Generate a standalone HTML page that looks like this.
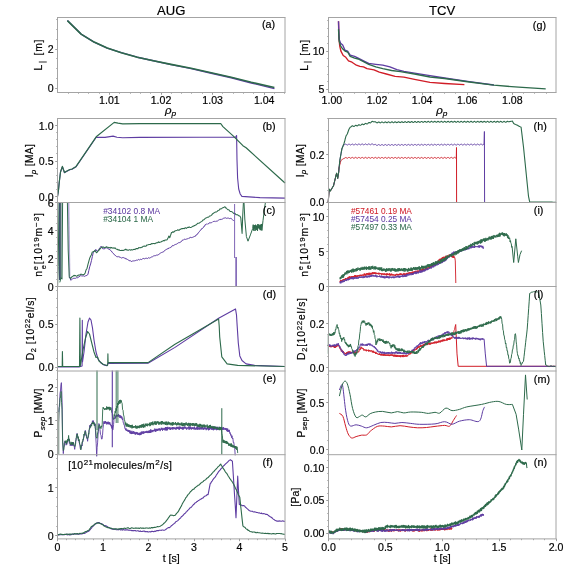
<!DOCTYPE html>
<html><head><meta charset="utf-8"><style>
html,body{margin:0;padding:0;background:#fff;}
svg{display:block;will-change:transform;}
text{font-family:"Liberation Sans",sans-serif;stroke:currentColor;stroke-width:0.18px;}
</style></head><body>
<svg width="568" height="568" viewBox="0 0 568 568">
<rect width="568" height="568" fill="#fff"/>
<text transform="translate(171.20,14.50) scale(1.04,1)" font-size="12.6" text-anchor="middle" fill="#000" color="#000" >AUG</text>
<text transform="translate(442.20,14.50) scale(1.04,1)" font-size="12.6" text-anchor="middle" fill="#000" color="#000" >TCV</text>
<line x1="56.2" y1="78.5" x2="57.5" y2="78.5" stroke="#969696" stroke-width="0.8"/>
<line x1="56.2" y1="68.5" x2="57.5" y2="68.5" stroke="#969696" stroke-width="0.8"/>
<line x1="56.2" y1="58.5" x2="57.5" y2="58.5" stroke="#969696" stroke-width="0.8"/>
<line x1="56.2" y1="39.5" x2="57.5" y2="39.5" stroke="#969696" stroke-width="0.8"/>
<line x1="56.2" y1="29.5" x2="57.5" y2="29.5" stroke="#969696" stroke-width="0.8"/>
<line x1="56.2" y1="19.5" x2="57.5" y2="19.5" stroke="#969696" stroke-width="0.8"/>
<line x1="55.2" y1="88.5" x2="57.5" y2="88.5" stroke="#969696" stroke-width="0.9"/>
<line x1="55.2" y1="49.5" x2="57.5" y2="49.5" stroke="#969696" stroke-width="0.9"/>
<text transform="translate(53.60,92.30) scale(1.04,1)" font-size="10.2" text-anchor="end" fill="#000" color="#000" >0</text>
<text transform="translate(53.60,53.30) scale(1.04,1)" font-size="10.2" text-anchor="end" fill="#000" color="#000" >2</text>
<line x1="68.5" y1="92.5" x2="68.5" y2="93.8" stroke="#969696" stroke-width="0.8"/>
<line x1="78.5" y1="92.5" x2="78.5" y2="93.8" stroke="#969696" stroke-width="0.8"/>
<line x1="88.5" y1="92.5" x2="88.5" y2="93.8" stroke="#969696" stroke-width="0.8"/>
<line x1="99.5" y1="92.5" x2="99.5" y2="93.8" stroke="#969696" stroke-width="0.8"/>
<line x1="109.5" y1="92.5" x2="109.5" y2="93.8" stroke="#969696" stroke-width="0.8"/>
<line x1="119.5" y1="92.5" x2="119.5" y2="93.8" stroke="#969696" stroke-width="0.8"/>
<line x1="130.5" y1="92.5" x2="130.5" y2="93.8" stroke="#969696" stroke-width="0.8"/>
<line x1="140.5" y1="92.5" x2="140.5" y2="93.8" stroke="#969696" stroke-width="0.8"/>
<line x1="150.5" y1="92.5" x2="150.5" y2="93.8" stroke="#969696" stroke-width="0.8"/>
<line x1="161.5" y1="92.5" x2="161.5" y2="93.8" stroke="#969696" stroke-width="0.8"/>
<line x1="171.5" y1="92.5" x2="171.5" y2="93.8" stroke="#969696" stroke-width="0.8"/>
<line x1="181.5" y1="92.5" x2="181.5" y2="93.8" stroke="#969696" stroke-width="0.8"/>
<line x1="191.5" y1="92.5" x2="191.5" y2="93.8" stroke="#969696" stroke-width="0.8"/>
<line x1="202.5" y1="92.5" x2="202.5" y2="93.8" stroke="#969696" stroke-width="0.8"/>
<line x1="212.5" y1="92.5" x2="212.5" y2="93.8" stroke="#969696" stroke-width="0.8"/>
<line x1="222.5" y1="92.5" x2="222.5" y2="93.8" stroke="#969696" stroke-width="0.8"/>
<line x1="233.5" y1="92.5" x2="233.5" y2="93.8" stroke="#969696" stroke-width="0.8"/>
<line x1="243.5" y1="92.5" x2="243.5" y2="93.8" stroke="#969696" stroke-width="0.8"/>
<line x1="253.5" y1="92.5" x2="253.5" y2="93.8" stroke="#969696" stroke-width="0.8"/>
<line x1="264.5" y1="92.5" x2="264.5" y2="93.8" stroke="#969696" stroke-width="0.8"/>
<line x1="274.5" y1="92.5" x2="274.5" y2="93.8" stroke="#969696" stroke-width="0.8"/>
<line x1="284.5" y1="92.5" x2="284.5" y2="93.8" stroke="#969696" stroke-width="0.8"/>
<line x1="109.5" y1="92.5" x2="109.5" y2="94.8" stroke="#969696" stroke-width="0.9"/>
<line x1="161.5" y1="92.5" x2="161.5" y2="94.8" stroke="#969696" stroke-width="0.9"/>
<line x1="212.5" y1="92.5" x2="212.5" y2="94.8" stroke="#969696" stroke-width="0.9"/>
<line x1="264.5" y1="92.5" x2="264.5" y2="94.8" stroke="#969696" stroke-width="0.9"/>
<text transform="translate(109.40,103.80) scale(1.04,1)" font-size="10.2" text-anchor="middle" fill="#000" color="#000" >1.01</text>
<text transform="translate(161.00,103.80) scale(1.04,1)" font-size="10.2" text-anchor="middle" fill="#000" color="#000" >1.02</text>
<text transform="translate(212.60,103.80) scale(1.04,1)" font-size="10.2" text-anchor="middle" fill="#000" color="#000" >1.03</text>
<text transform="translate(264.20,103.80) scale(1.04,1)" font-size="10.2" text-anchor="middle" fill="#000" color="#000" >1.04</text>
<polyline points="67.40,20.60 81.10,34.10 94.10,42.10 107.20,48.10 121.30,52.70 137.30,57.20 153.40,60.80 171.00,64.60 191.10,68.60 211.20,73.30 231.20,77.80 251.30,83.00 274.40,88.60" fill="none" stroke="#5e3ca2" stroke-width="1.4" stroke-linejoin="round" opacity="1.0"/>
<polyline points="67.40,20.60 81.10,34.10 94.10,42.10 107.20,48.10 121.30,52.70 137.30,57.20 153.40,60.80 171.00,64.40 191.10,68.20 211.20,72.80 231.20,77.20 251.30,82.30 274.40,87.50" fill="none" stroke="#2d6a4b" stroke-width="1.6" stroke-linejoin="round" opacity="1.0"/>
<text transform="translate(262.00,27.80) scale(1.04,1)" font-size="10.4" text-anchor="start" fill="#000" color="#000" >(a)</text>
<line x1="327.2" y1="81.5" x2="328.5" y2="81.5" stroke="#969696" stroke-width="0.8"/>
<line x1="327.2" y1="74.5" x2="328.5" y2="74.5" stroke="#969696" stroke-width="0.8"/>
<line x1="327.2" y1="66.5" x2="328.5" y2="66.5" stroke="#969696" stroke-width="0.8"/>
<line x1="327.2" y1="58.5" x2="328.5" y2="58.5" stroke="#969696" stroke-width="0.8"/>
<line x1="327.2" y1="43.5" x2="328.5" y2="43.5" stroke="#969696" stroke-width="0.8"/>
<line x1="327.2" y1="36.5" x2="328.5" y2="36.5" stroke="#969696" stroke-width="0.8"/>
<line x1="327.2" y1="28.5" x2="328.5" y2="28.5" stroke="#969696" stroke-width="0.8"/>
<line x1="327.2" y1="20.5" x2="328.5" y2="20.5" stroke="#969696" stroke-width="0.8"/>
<line x1="326.2" y1="89.5" x2="328.5" y2="89.5" stroke="#969696" stroke-width="0.9"/>
<line x1="326.2" y1="51.5" x2="328.5" y2="51.5" stroke="#969696" stroke-width="0.9"/>
<text transform="translate(324.50,93.40) scale(1.04,1)" font-size="10.2" text-anchor="end" fill="#000" color="#000" >5</text>
<text transform="translate(324.50,55.40) scale(1.04,1)" font-size="10.2" text-anchor="end" fill="#000" color="#000" >10</text>
<line x1="331.5" y1="92.5" x2="331.5" y2="93.8" stroke="#969696" stroke-width="0.8"/>
<line x1="343.5" y1="92.5" x2="343.5" y2="93.8" stroke="#969696" stroke-width="0.8"/>
<line x1="354.5" y1="92.5" x2="354.5" y2="93.8" stroke="#969696" stroke-width="0.8"/>
<line x1="365.5" y1="92.5" x2="365.5" y2="93.8" stroke="#969696" stroke-width="0.8"/>
<line x1="377.5" y1="92.5" x2="377.5" y2="93.8" stroke="#969696" stroke-width="0.8"/>
<line x1="388.5" y1="92.5" x2="388.5" y2="93.8" stroke="#969696" stroke-width="0.8"/>
<line x1="399.5" y1="92.5" x2="399.5" y2="93.8" stroke="#969696" stroke-width="0.8"/>
<line x1="410.5" y1="92.5" x2="410.5" y2="93.8" stroke="#969696" stroke-width="0.8"/>
<line x1="422.5" y1="92.5" x2="422.5" y2="93.8" stroke="#969696" stroke-width="0.8"/>
<line x1="433.5" y1="92.5" x2="433.5" y2="93.8" stroke="#969696" stroke-width="0.8"/>
<line x1="444.5" y1="92.5" x2="444.5" y2="93.8" stroke="#969696" stroke-width="0.8"/>
<line x1="455.5" y1="92.5" x2="455.5" y2="93.8" stroke="#969696" stroke-width="0.8"/>
<line x1="467.5" y1="92.5" x2="467.5" y2="93.8" stroke="#969696" stroke-width="0.8"/>
<line x1="478.5" y1="92.5" x2="478.5" y2="93.8" stroke="#969696" stroke-width="0.8"/>
<line x1="489.5" y1="92.5" x2="489.5" y2="93.8" stroke="#969696" stroke-width="0.8"/>
<line x1="501.5" y1="92.5" x2="501.5" y2="93.8" stroke="#969696" stroke-width="0.8"/>
<line x1="512.5" y1="92.5" x2="512.5" y2="93.8" stroke="#969696" stroke-width="0.8"/>
<line x1="523.5" y1="92.5" x2="523.5" y2="93.8" stroke="#969696" stroke-width="0.8"/>
<line x1="534.5" y1="92.5" x2="534.5" y2="93.8" stroke="#969696" stroke-width="0.8"/>
<line x1="546.5" y1="92.5" x2="546.5" y2="93.8" stroke="#969696" stroke-width="0.8"/>
<line x1="331.5" y1="92.5" x2="331.5" y2="94.8" stroke="#969696" stroke-width="0.9"/>
<line x1="377.5" y1="92.5" x2="377.5" y2="94.8" stroke="#969696" stroke-width="0.9"/>
<line x1="422.5" y1="92.5" x2="422.5" y2="94.8" stroke="#969696" stroke-width="0.9"/>
<line x1="467.5" y1="92.5" x2="467.5" y2="94.8" stroke="#969696" stroke-width="0.9"/>
<line x1="512.5" y1="92.5" x2="512.5" y2="94.8" stroke="#969696" stroke-width="0.9"/>
<text transform="translate(331.90,103.80) scale(1.04,1)" font-size="10.2" text-anchor="middle" fill="#000" color="#000" >1.00</text>
<text transform="translate(377.00,103.80) scale(1.04,1)" font-size="10.2" text-anchor="middle" fill="#000" color="#000" >1.02</text>
<text transform="translate(422.10,103.80) scale(1.04,1)" font-size="10.2" text-anchor="middle" fill="#000" color="#000" >1.04</text>
<text transform="translate(467.20,103.80) scale(1.04,1)" font-size="10.2" text-anchor="middle" fill="#000" color="#000" >1.06</text>
<text transform="translate(512.30,103.80) scale(1.04,1)" font-size="10.2" text-anchor="middle" fill="#000" color="#000" >1.08</text>
<polyline points="338.50,21.20 338.80,36.10 339.70,45.80 340.90,51.10 343.20,55.50 345.80,57.30 348.50,60.80 352.00,62.20 356.40,65.20 359.90,66.40 363.50,66.90 367.00,68.70 374.00,69.90 379.30,72.20 386.30,74.00 395.10,76.30 403.90,77.10 414.50,79.30 430.00,82.30 444.60,83.50 464.40,84.70" fill="none" stroke="#d01c26" stroke-width="1.35" stroke-linejoin="round" opacity="1.0"/>
<polyline points="338.50,21.20 339.20,39.60 340.60,43.20 342.70,44.90 345.00,50.20 347.60,51.10 350.20,55.10 354.60,56.40 358.20,58.10 363.50,60.80 368.70,63.40 375.80,64.30 382.80,65.20 389.90,66.90 396.90,69.60 403.90,71.30 414.50,73.10 430.00,75.70 444.60,78.00 469.30,81.70 493.90,85.00" fill="none" stroke="#5e3ca2" stroke-width="1.35" stroke-linejoin="round" opacity="1.0"/>
<polyline points="338.50,29.10 339.20,41.40 340.60,45.80 342.30,48.50 345.00,51.10 347.60,52.00 350.20,56.40 354.60,58.10 358.20,59.00 363.50,61.70 368.70,64.30 375.80,66.90 382.80,68.70 391.60,70.50 400.40,71.70 414.50,74.00 430.00,77.00 444.60,78.50 469.30,82.00 493.90,85.20 518.60,87.20 545.70,88.90" fill="none" stroke="#2d6a4b" stroke-width="1.35" stroke-linejoin="round" opacity="1.0"/>
<text transform="translate(532.80,28.80) scale(1.04,1)" font-size="10.4" text-anchor="start" fill="#000" color="#000" >(g)</text>
<text transform="translate(165.00,113.50) scale(1.04,1)" font-size="11" text-anchor="start" fill="#000" color="#000" font-style="italic">&#961;<tspan font-size="8" dy="2">p</tspan></text>
<text transform="translate(436.20,113.50) scale(1.04,1)" font-size="11" text-anchor="start" fill="#000" color="#000" font-style="italic">&#961;<tspan font-size="8" dy="2">p</tspan></text>
<line x1="57.5" y1="538.9" x2="57.5" y2="540.1999999999999" stroke="#969696" stroke-width="0.8"/>
<line x1="66.5" y1="538.9" x2="66.5" y2="540.1999999999999" stroke="#969696" stroke-width="0.8"/>
<line x1="75.5" y1="538.9" x2="75.5" y2="540.1999999999999" stroke="#969696" stroke-width="0.8"/>
<line x1="84.5" y1="538.9" x2="84.5" y2="540.1999999999999" stroke="#969696" stroke-width="0.8"/>
<line x1="93.5" y1="538.9" x2="93.5" y2="540.1999999999999" stroke="#969696" stroke-width="0.8"/>
<line x1="103.5" y1="538.9" x2="103.5" y2="540.1999999999999" stroke="#969696" stroke-width="0.8"/>
<line x1="112.5" y1="538.9" x2="112.5" y2="540.1999999999999" stroke="#969696" stroke-width="0.8"/>
<line x1="121.5" y1="538.9" x2="121.5" y2="540.1999999999999" stroke="#969696" stroke-width="0.8"/>
<line x1="130.5" y1="538.9" x2="130.5" y2="540.1999999999999" stroke="#969696" stroke-width="0.8"/>
<line x1="139.5" y1="538.9" x2="139.5" y2="540.1999999999999" stroke="#969696" stroke-width="0.8"/>
<line x1="148.5" y1="538.9" x2="148.5" y2="540.1999999999999" stroke="#969696" stroke-width="0.8"/>
<line x1="157.5" y1="538.9" x2="157.5" y2="540.1999999999999" stroke="#969696" stroke-width="0.8"/>
<line x1="166.5" y1="538.9" x2="166.5" y2="540.1999999999999" stroke="#969696" stroke-width="0.8"/>
<line x1="175.5" y1="538.9" x2="175.5" y2="540.1999999999999" stroke="#969696" stroke-width="0.8"/>
<line x1="184.5" y1="538.9" x2="184.5" y2="540.1999999999999" stroke="#969696" stroke-width="0.8"/>
<line x1="194.5" y1="538.9" x2="194.5" y2="540.1999999999999" stroke="#969696" stroke-width="0.8"/>
<line x1="203.5" y1="538.9" x2="203.5" y2="540.1999999999999" stroke="#969696" stroke-width="0.8"/>
<line x1="212.5" y1="538.9" x2="212.5" y2="540.1999999999999" stroke="#969696" stroke-width="0.8"/>
<line x1="221.5" y1="538.9" x2="221.5" y2="540.1999999999999" stroke="#969696" stroke-width="0.8"/>
<line x1="230.5" y1="538.9" x2="230.5" y2="540.1999999999999" stroke="#969696" stroke-width="0.8"/>
<line x1="239.5" y1="538.9" x2="239.5" y2="540.1999999999999" stroke="#969696" stroke-width="0.8"/>
<line x1="248.5" y1="538.9" x2="248.5" y2="540.1999999999999" stroke="#969696" stroke-width="0.8"/>
<line x1="257.5" y1="538.9" x2="257.5" y2="540.1999999999999" stroke="#969696" stroke-width="0.8"/>
<line x1="266.5" y1="538.9" x2="266.5" y2="540.1999999999999" stroke="#969696" stroke-width="0.8"/>
<line x1="275.5" y1="538.9" x2="275.5" y2="540.1999999999999" stroke="#969696" stroke-width="0.8"/>
<line x1="285.5" y1="538.9" x2="285.5" y2="540.1999999999999" stroke="#969696" stroke-width="0.8"/>
<line x1="57.5" y1="538.9" x2="57.5" y2="541.1999999999999" stroke="#969696" stroke-width="0.9"/>
<line x1="103.5" y1="538.9" x2="103.5" y2="541.1999999999999" stroke="#969696" stroke-width="0.9"/>
<line x1="148.5" y1="538.9" x2="148.5" y2="541.1999999999999" stroke="#969696" stroke-width="0.9"/>
<line x1="194.5" y1="538.9" x2="194.5" y2="541.1999999999999" stroke="#969696" stroke-width="0.9"/>
<line x1="239.5" y1="538.9" x2="239.5" y2="541.1999999999999" stroke="#969696" stroke-width="0.9"/>
<line x1="285.5" y1="538.9" x2="285.5" y2="541.1999999999999" stroke="#969696" stroke-width="0.9"/>
<text transform="translate(57.50,550.70) scale(1.04,1)" font-size="10.2" text-anchor="middle" fill="#000" color="#000" >0</text>
<text transform="translate(103.00,550.70) scale(1.04,1)" font-size="10.2" text-anchor="middle" fill="#000" color="#000" >1</text>
<text transform="translate(148.50,550.70) scale(1.04,1)" font-size="10.2" text-anchor="middle" fill="#000" color="#000" >2</text>
<text transform="translate(194.00,550.70) scale(1.04,1)" font-size="10.2" text-anchor="middle" fill="#000" color="#000" >3</text>
<text transform="translate(239.50,550.70) scale(1.04,1)" font-size="10.2" text-anchor="middle" fill="#000" color="#000" >4</text>
<text transform="translate(285.00,550.70) scale(1.04,1)" font-size="10.2" text-anchor="middle" fill="#000" color="#000" >5</text>
<line x1="328.5" y1="538.9" x2="328.5" y2="540.1999999999999" stroke="#969696" stroke-width="0.8"/>
<line x1="339.5" y1="538.9" x2="339.5" y2="540.1999999999999" stroke="#969696" stroke-width="0.8"/>
<line x1="351.5" y1="538.9" x2="351.5" y2="540.1999999999999" stroke="#969696" stroke-width="0.8"/>
<line x1="362.5" y1="538.9" x2="362.5" y2="540.1999999999999" stroke="#969696" stroke-width="0.8"/>
<line x1="374.5" y1="538.9" x2="374.5" y2="540.1999999999999" stroke="#969696" stroke-width="0.8"/>
<line x1="385.5" y1="538.9" x2="385.5" y2="540.1999999999999" stroke="#969696" stroke-width="0.8"/>
<line x1="396.5" y1="538.9" x2="396.5" y2="540.1999999999999" stroke="#969696" stroke-width="0.8"/>
<line x1="408.5" y1="538.9" x2="408.5" y2="540.1999999999999" stroke="#969696" stroke-width="0.8"/>
<line x1="419.5" y1="538.9" x2="419.5" y2="540.1999999999999" stroke="#969696" stroke-width="0.8"/>
<line x1="430.5" y1="538.9" x2="430.5" y2="540.1999999999999" stroke="#969696" stroke-width="0.8"/>
<line x1="442.5" y1="538.9" x2="442.5" y2="540.1999999999999" stroke="#969696" stroke-width="0.8"/>
<line x1="453.5" y1="538.9" x2="453.5" y2="540.1999999999999" stroke="#969696" stroke-width="0.8"/>
<line x1="465.5" y1="538.9" x2="465.5" y2="540.1999999999999" stroke="#969696" stroke-width="0.8"/>
<line x1="476.5" y1="538.9" x2="476.5" y2="540.1999999999999" stroke="#969696" stroke-width="0.8"/>
<line x1="487.5" y1="538.9" x2="487.5" y2="540.1999999999999" stroke="#969696" stroke-width="0.8"/>
<line x1="499.5" y1="538.9" x2="499.5" y2="540.1999999999999" stroke="#969696" stroke-width="0.8"/>
<line x1="510.5" y1="538.9" x2="510.5" y2="540.1999999999999" stroke="#969696" stroke-width="0.8"/>
<line x1="521.5" y1="538.9" x2="521.5" y2="540.1999999999999" stroke="#969696" stroke-width="0.8"/>
<line x1="533.5" y1="538.9" x2="533.5" y2="540.1999999999999" stroke="#969696" stroke-width="0.8"/>
<line x1="544.5" y1="538.9" x2="544.5" y2="540.1999999999999" stroke="#969696" stroke-width="0.8"/>
<line x1="556.5" y1="538.9" x2="556.5" y2="540.1999999999999" stroke="#969696" stroke-width="0.8"/>
<line x1="328.5" y1="538.9" x2="328.5" y2="541.1999999999999" stroke="#969696" stroke-width="0.9"/>
<line x1="385.5" y1="538.9" x2="385.5" y2="541.1999999999999" stroke="#969696" stroke-width="0.9"/>
<line x1="442.5" y1="538.9" x2="442.5" y2="541.1999999999999" stroke="#969696" stroke-width="0.9"/>
<line x1="499.5" y1="538.9" x2="499.5" y2="541.1999999999999" stroke="#969696" stroke-width="0.9"/>
<line x1="556.5" y1="538.9" x2="556.5" y2="541.1999999999999" stroke="#969696" stroke-width="0.9"/>
<text transform="translate(328.50,550.70) scale(1.04,1)" font-size="10.2" text-anchor="middle" fill="#000" color="#000" >0.0</text>
<text transform="translate(385.38,550.70) scale(1.04,1)" font-size="10.2" text-anchor="middle" fill="#000" color="#000" >0.5</text>
<text transform="translate(442.25,550.70) scale(1.04,1)" font-size="10.2" text-anchor="middle" fill="#000" color="#000" >1.0</text>
<text transform="translate(499.12,550.70) scale(1.04,1)" font-size="10.2" text-anchor="middle" fill="#000" color="#000" >1.5</text>
<text transform="translate(556.00,550.70) scale(1.04,1)" font-size="10.2" text-anchor="middle" fill="#000" color="#000" >2.0</text>
<line x1="56.2" y1="196.5" x2="57.5" y2="196.5" stroke="#969696" stroke-width="0.8"/>
<line x1="56.2" y1="189.5" x2="57.5" y2="189.5" stroke="#969696" stroke-width="0.8"/>
<line x1="56.2" y1="182.5" x2="57.5" y2="182.5" stroke="#969696" stroke-width="0.8"/>
<line x1="56.2" y1="175.5" x2="57.5" y2="175.5" stroke="#969696" stroke-width="0.8"/>
<line x1="56.2" y1="168.5" x2="57.5" y2="168.5" stroke="#969696" stroke-width="0.8"/>
<line x1="56.2" y1="161.5" x2="57.5" y2="161.5" stroke="#969696" stroke-width="0.8"/>
<line x1="56.2" y1="153.5" x2="57.5" y2="153.5" stroke="#969696" stroke-width="0.8"/>
<line x1="56.2" y1="146.5" x2="57.5" y2="146.5" stroke="#969696" stroke-width="0.8"/>
<line x1="56.2" y1="139.5" x2="57.5" y2="139.5" stroke="#969696" stroke-width="0.8"/>
<line x1="56.2" y1="132.5" x2="57.5" y2="132.5" stroke="#969696" stroke-width="0.8"/>
<line x1="56.2" y1="125.5" x2="57.5" y2="125.5" stroke="#969696" stroke-width="0.8"/>
<line x1="55.2" y1="196.5" x2="57.5" y2="196.5" stroke="#969696" stroke-width="0.9"/>
<line x1="55.2" y1="161.5" x2="57.5" y2="161.5" stroke="#969696" stroke-width="0.9"/>
<line x1="55.2" y1="125.5" x2="57.5" y2="125.5" stroke="#969696" stroke-width="0.9"/>
<text transform="translate(53.60,200.70) scale(1.04,1)" font-size="10.2" text-anchor="end" fill="#000" color="#000" >0.0</text>
<text transform="translate(53.60,165.10) scale(1.04,1)" font-size="10.2" text-anchor="end" fill="#000" color="#000" >0.5</text>
<text transform="translate(53.60,129.50) scale(1.04,1)" font-size="10.2" text-anchor="end" fill="#000" color="#000" >1.0</text>
<polyline points="57.50,196.40 58.50,190.00 59.20,182.70 60.50,172.00 62.40,166.80 64.50,172.80 66.00,171.80 69.80,169.80 72.00,169.30 76.10,166.80 96.20,137.20 105.00,137.40 113.10,136.10 117.00,137.20 122.70,137.80 140.00,137.40 200.00,137.30 235.50,137.20 236.60,135.50 237.00,160.00 237.60,178.00 238.70,189.00 240.20,194.00 241.90,196.40 260.00,197.60 285.00,198.10" fill="none" stroke="#5e3ca2" stroke-width="1.1" stroke-linejoin="round" opacity="1.0"/>
<polyline points="57.50,196.40 58.50,190.00 59.20,182.70 60.50,172.00 62.40,166.40 64.50,172.50 66.00,171.50 69.80,169.50 72.00,169.00 76.10,166.40 96.20,136.80 114.20,122.40 118.00,123.20 122.70,123.90 140.00,123.60 180.00,123.60 220.70,123.50 222.90,126.60 233.40,136.10 242.90,145.70 246.10,147.80 285.00,183.00" fill="none" stroke="#2d6a4b" stroke-width="1.2" stroke-linejoin="round" opacity="1.0"/>
<text transform="translate(262.40,129.80) scale(1.04,1)" font-size="10.4" text-anchor="start" fill="#000" color="#000" >(b)</text>
<line x1="327.2" y1="202.5" x2="328.5" y2="202.5" stroke="#969696" stroke-width="0.8"/>
<line x1="327.2" y1="190.5" x2="328.5" y2="190.5" stroke="#969696" stroke-width="0.8"/>
<line x1="327.2" y1="178.5" x2="328.5" y2="178.5" stroke="#969696" stroke-width="0.8"/>
<line x1="327.2" y1="166.5" x2="328.5" y2="166.5" stroke="#969696" stroke-width="0.8"/>
<line x1="327.2" y1="154.5" x2="328.5" y2="154.5" stroke="#969696" stroke-width="0.8"/>
<line x1="327.2" y1="142.5" x2="328.5" y2="142.5" stroke="#969696" stroke-width="0.8"/>
<line x1="327.2" y1="130.5" x2="328.5" y2="130.5" stroke="#969696" stroke-width="0.8"/>
<line x1="327.2" y1="118.5" x2="328.5" y2="118.5" stroke="#969696" stroke-width="0.8"/>
<line x1="326.2" y1="202.5" x2="328.5" y2="202.5" stroke="#969696" stroke-width="0.9"/>
<line x1="326.2" y1="154.5" x2="328.5" y2="154.5" stroke="#969696" stroke-width="0.9"/>
<text transform="translate(324.50,206.40) scale(1.04,1)" font-size="10.2" text-anchor="end" fill="#000" color="#000" >0.0</text>
<text transform="translate(324.50,158.50) scale(1.04,1)" font-size="10.2" text-anchor="end" fill="#000" color="#000" >0.2</text>
<polyline points="328.20,202.40 328.70,195.70 329.20,189.00 329.75,190.05 330.30,191.10 330.76,190.34 331.21,189.59 331.67,188.83 332.13,188.07 332.59,187.31 333.04,186.56 333.50,185.80 333.94,183.99 334.39,182.17 334.83,180.36 335.27,178.54 335.71,176.73 336.16,174.91 336.60,173.10 337.15,175.75 337.70,178.40 338.20,175.25 338.70,172.10 338.90,168.00 339.35,166.35 339.80,164.70 340.35,162.60 340.90,160.50 341.34,160.19 341.79,159.87 342.23,159.56 342.67,159.24 343.11,158.93 343.56,158.61 344.00,158.30 344.45,158.22 344.90,158.13 345.35,157.68 345.80,157.53 346.25,157.68 346.70,157.97 347.10,158.21 347.50,158.23 347.90,158.01 348.30,157.67 348.70,157.41 349.10,157.37 349.50,157.56 349.90,157.89 350.30,158.17 350.70,158.25 351.11,158.08 351.51,157.76 351.91,157.46 352.31,157.36 352.71,157.50 353.11,157.81 353.51,158.12 353.91,158.26 354.31,158.14 354.71,157.84 355.11,157.53 355.51,157.36 355.91,157.45 356.31,157.74 356.71,158.06 357.11,158.25 357.51,158.20 357.91,157.93 358.31,157.60 358.71,157.39 359.11,157.41 359.52,157.66 359.92,158.00 360.32,158.23 360.72,158.24 361.12,158.01 361.52,157.68 361.92,157.42 362.32,157.39 362.72,157.59 363.12,157.92 363.52,158.20 363.92,158.26 364.32,158.08 364.72,157.76 365.12,157.47 365.52,157.37 365.92,157.53 366.32,157.84 366.72,158.15 367.12,158.27 367.52,158.15 367.93,157.85 368.33,157.53 368.73,157.38 369.13,157.47 369.53,157.77 369.93,158.09 370.33,158.27 370.73,158.21 371.13,157.93 371.53,157.60 371.93,157.40 372.33,157.43 372.73,157.69 373.13,158.02 373.53,158.25 373.93,158.25 374.33,158.01 374.73,157.68 375.13,157.43 375.53,157.41 375.94,157.62 376.34,157.95 376.74,158.22 377.14,158.28 377.54,158.09 377.94,157.76 378.34,157.48 378.74,157.39 379.14,157.55 379.54,157.87 379.94,158.17 380.34,158.29 380.74,158.16 381.14,157.85 381.54,157.54 381.94,157.39 382.34,157.50 382.74,157.79 383.14,158.12 383.54,158.29 383.94,158.21 384.35,157.93 384.75,157.61 385.15,157.41 385.55,157.46 385.95,157.72 386.35,158.05 386.75,158.27 387.15,158.26 387.55,158.02 387.95,157.68 388.35,157.44 388.75,157.43 389.15,157.65 389.55,157.98 389.95,158.24 390.35,158.29 390.75,158.09 391.15,157.77 391.55,157.49 391.95,157.41 392.35,157.58 392.76,157.90 393.16,158.20 393.56,158.31 393.96,158.16 394.36,157.85 394.76,157.54 395.16,157.41 395.56,157.52 395.96,157.82 396.36,158.14 396.76,158.31 397.16,158.22 397.56,157.94 397.96,157.61 398.36,157.42 398.76,157.48 399.16,157.75 399.56,158.08 399.96,158.29 400.36,158.27 400.76,158.02 401.17,157.69 401.57,157.45 401.97,157.45 402.37,157.67 402.77,158.01 403.17,158.26 403.57,158.30 403.97,158.10 404.37,157.77 404.77,157.49 405.17,157.43 405.57,157.61 405.97,157.93 406.37,158.22 406.77,158.32 407.17,158.17 407.57,157.85 407.97,157.55 408.37,157.42 408.77,157.55 409.18,157.85 409.58,158.17 409.98,158.32 410.38,158.23 410.78,157.94 411.18,157.61 411.58,157.44 411.98,157.50 412.38,157.78 412.78,158.11 413.18,158.31 413.58,158.28 413.98,158.02 414.38,157.69 414.78,157.46 415.18,157.47 415.58,157.70 415.98,158.04 416.38,158.29 416.78,158.31 417.18,158.10 417.59,157.77 417.99,157.50 418.39,157.45 418.79,157.63 419.19,157.96 419.59,158.25 419.99,158.33 420.39,158.17 420.79,157.86 421.19,157.56 421.59,157.44 421.99,157.57 422.39,157.88 422.79,158.20 423.19,158.34 423.59,158.24 423.99,157.94 424.39,157.62 424.79,157.45 425.19,157.52 425.59,157.81 426.00,158.14 426.40,158.33 426.80,158.29 427.20,158.03 427.60,157.69 428.00,157.47 428.40,157.49 428.80,157.73 429.20,158.07 429.60,158.31 430.00,158.33 430.40,158.10 430.81,157.76 431.21,157.50 431.62,157.46 432.02,157.67 432.43,158.00 432.83,158.27 433.24,158.33 433.64,158.14 434.05,157.80 434.45,157.52 434.86,157.44 435.26,157.61 435.66,157.93 436.07,158.23 436.47,158.32 436.88,158.17 437.28,157.84 437.69,157.54 438.09,157.42 438.50,157.56 438.90,157.87 439.31,158.18 439.71,158.31 440.12,158.19 440.52,157.89 440.92,157.56 441.33,157.41 441.73,157.51 442.14,157.80 442.54,158.13 442.95,158.30 443.35,158.21 443.76,157.93 444.16,157.59 444.57,157.40 444.97,157.46 445.38,157.74 445.78,158.07 446.18,158.27 446.59,158.23 446.99,157.97 447.40,157.63 447.80,157.41 448.21,157.42 448.61,157.67 449.02,158.01 449.42,158.24 449.83,158.24 450.23,158.01 450.64,157.67 451.04,157.41 451.44,157.39 451.85,157.61 452.25,157.95 452.66,158.21 453.06,158.25 453.47,158.04 453.87,157.71 454.28,157.43 454.68,157.37 455.09,157.55 455.49,157.88 455.90,158.17 456.30,157.80 456.50,147.50 456.60,202.20" fill="none" stroke="#d01c26" stroke-width="1.0" stroke-linejoin="round" opacity="1.0"/>
<polyline points="328.20,202.40 328.70,195.70 329.20,189.00 329.75,190.05 330.30,191.10 330.76,190.34 331.21,189.59 331.67,188.83 332.13,188.07 332.59,187.31 333.04,186.56 333.50,185.80 333.94,183.99 334.39,182.17 334.83,180.36 335.27,178.54 335.71,176.73 336.16,174.91 336.60,173.10 337.15,175.75 337.70,178.40 338.20,175.25 338.70,172.10 339.25,166.30 339.80,160.50 340.22,158.16 340.64,155.82 341.06,153.48 341.48,151.14 341.90,148.80 342.30,147.85 342.70,146.90 343.10,145.95 343.50,145.00 344.00,144.80 344.50,144.60 344.90,144.60 345.30,144.25 345.70,144.14 346.11,144.28 346.51,144.59 346.91,144.89 347.31,145.02 347.71,144.90 348.11,144.60 348.51,144.27 348.92,144.11 349.32,144.19 349.72,144.48 350.12,144.80 350.52,144.98 350.92,144.91 351.32,144.64 351.72,144.30 352.13,144.09 352.53,144.12 352.93,144.37 353.33,144.70 353.73,144.93 354.13,144.92 354.53,144.68 354.94,144.34 355.34,144.08 355.74,144.06 356.14,144.27 356.54,144.60 356.94,144.86 357.34,144.91 357.75,144.71 358.15,144.38 358.55,144.09 358.95,144.01 359.35,144.17 359.75,144.49 360.15,144.78 360.55,144.88 360.96,144.74 361.36,144.42 361.76,144.11 362.16,143.97 362.56,144.08 362.96,144.38 363.36,144.69 363.77,144.85 364.17,144.76 364.57,144.46 364.97,144.13 365.37,143.95 365.77,144.00 366.17,144.27 366.58,144.60 366.98,144.80 367.38,144.76 367.78,144.51 368.18,144.17 368.58,143.93 368.98,143.93 369.38,144.17 369.79,144.50 370.19,144.74 370.59,144.76 370.99,144.54 371.39,144.20 371.79,143.93 372.19,143.88 372.60,144.07 373.00,144.39 373.40,144.67 373.80,144.75 374.24,144.69 374.68,144.47 375.12,144.32 375.56,144.44 376.00,144.83 376.40,145.17 376.80,145.41 377.20,145.42 377.60,145.20 378.00,144.86 378.40,144.60 378.80,144.55 379.20,144.74 379.60,145.07 380.00,145.35 380.40,145.42 380.80,145.25 381.20,144.93 381.61,144.63 382.01,144.52 382.41,144.66 382.81,144.97 383.21,145.28 383.61,145.41 384.01,145.30 384.41,145.00 384.81,144.68 385.21,144.51 385.61,144.59 386.01,144.88 386.41,145.20 386.81,145.39 387.21,145.33 387.61,145.06 388.01,144.73 388.41,144.51 388.81,144.54 389.21,144.78 389.61,145.11 390.01,145.35 390.41,145.35 390.81,145.13 391.21,144.79 391.61,144.53 392.01,144.49 392.42,144.69 392.82,145.02 393.22,145.29 393.62,145.36 394.02,145.18 394.42,144.86 394.82,144.56 395.22,144.46 395.62,144.61 396.02,144.92 396.42,145.23 396.82,145.35 397.22,145.23 397.62,144.93 398.02,144.61 398.42,144.45 398.82,144.54 399.22,144.83 399.62,145.15 400.02,145.33 400.42,145.27 400.82,144.99 401.22,144.66 401.62,144.45 402.02,144.48 402.42,144.73 402.82,145.06 403.23,145.29 403.63,145.29 404.03,145.06 404.43,144.72 404.83,144.47 405.23,144.43 405.63,144.64 406.03,144.97 406.43,145.24 406.83,145.30 407.23,145.11 407.63,144.79 408.03,144.50 408.43,144.40 408.83,144.56 409.23,144.87 409.63,145.17 410.03,145.29 410.43,145.16 410.83,144.85 411.23,144.54 411.63,144.39 412.03,144.48 412.43,144.77 412.83,145.10 413.23,145.27 413.63,145.20 414.04,144.92 414.44,144.59 414.84,144.39 415.24,144.42 415.64,144.68 416.04,145.01 416.44,145.23 416.84,145.22 417.24,144.99 417.64,144.65 418.04,144.40 418.44,144.38 418.84,144.59 419.24,144.92 419.64,145.18 420.04,145.24 420.44,145.04 420.84,144.71 421.24,144.43 421.64,144.34 422.04,144.50 422.44,144.82 422.84,145.12 423.24,145.23 423.64,145.09 424.04,144.78 424.44,144.47 424.85,144.32 425.25,144.43 425.65,144.72 426.05,145.04 426.45,145.21 426.85,145.13 427.25,144.85 427.65,144.52 428.05,144.32 428.45,144.37 428.85,144.63 429.25,144.96 429.65,145.18 430.05,145.16 430.45,144.92 430.85,144.58 431.25,144.33 431.65,144.32 432.05,144.54 432.45,144.87 432.85,145.13 433.25,145.17 433.65,144.97 434.05,144.64 434.45,144.36 434.85,144.28 435.25,144.45 435.66,144.77 436.06,145.07 436.46,145.17 436.86,145.03 437.26,144.71 437.66,144.40 438.06,144.26 438.46,144.38 438.86,144.67 439.26,144.99 439.66,145.15 440.06,145.07 440.46,144.78 440.86,144.45 441.26,144.26 441.66,144.31 442.06,144.58 442.46,144.91 442.86,145.12 443.26,145.09 443.66,144.84 444.06,144.51 444.46,144.27 444.86,144.26 445.26,144.48 445.66,144.82 446.06,145.07 446.47,145.11 446.87,144.90 447.27,144.57 447.67,144.29 448.07,144.22 448.47,144.40 448.87,144.72 449.27,145.01 449.67,145.11 450.07,144.96 450.47,144.64 450.87,144.33 451.27,144.20 451.67,144.32 452.07,144.62 452.47,144.94 452.87,145.09 453.27,145.00 453.67,144.71 454.07,144.38 454.47,144.20 454.87,144.26 455.27,144.53 455.67,144.86 456.07,145.06 456.47,145.03 456.87,144.77 457.28,144.44 457.68,144.20 458.08,144.20 458.48,144.43 458.88,144.77 459.28,145.02 459.68,145.04 460.08,144.83 460.48,144.50 460.88,144.23 461.28,144.16 461.68,144.35 462.08,144.67 462.48,144.96 462.88,145.05 463.28,144.89 463.68,144.57 464.08,144.26 464.48,144.14 464.88,144.27 465.28,144.57 465.68,144.88 466.08,145.03 466.48,144.93 466.88,144.64 467.28,144.31 467.68,144.13 468.09,144.20 468.49,144.47 468.89,144.80 469.29,145.00 469.69,144.96 470.09,144.70 470.49,144.37 470.89,144.14 471.29,144.15 471.69,144.38 472.09,144.71 472.49,144.96 472.89,144.98 473.29,144.76 473.69,144.43 474.09,144.16 474.49,144.11 474.89,144.29 475.29,144.62 475.69,144.90 476.09,144.98 476.49,144.82 476.89,144.50 477.29,144.19 477.69,144.08 478.09,144.21 478.49,144.52 478.90,144.83 479.30,144.97 479.70,144.86 480.10,144.56 480.50,144.24 480.90,144.07 481.30,144.15 481.70,144.42 482.10,144.75 482.50,144.94 482.90,144.90 483.30,144.63 483.70,144.30 484.10,144.50 484.40,131.50 484.60,202.20" fill="none" stroke="#5e3ca2" stroke-width="1.0" stroke-linejoin="round" opacity="1.0"/>
<polyline points="328.20,202.40 328.70,195.70 329.20,189.00 329.75,190.05 330.30,191.10 330.76,190.34 331.21,189.59 331.67,188.83 332.13,188.07 332.59,187.31 333.04,186.56 333.50,185.80 333.94,183.99 334.39,182.17 334.83,180.36 335.27,178.54 335.71,176.73 336.16,174.91 336.60,173.10 337.15,175.75 337.70,178.40 338.20,175.25 338.70,172.10 339.25,166.30 339.80,160.50 340.22,158.16 340.64,155.82 341.06,153.48 341.48,151.14 341.90,148.80 342.32,147.74 342.74,146.68 343.16,145.62 343.58,144.56 344.00,143.50 344.42,142.02 344.84,140.54 345.26,138.74 345.68,137.13 346.10,135.79 346.53,135.18 346.96,134.55 347.39,133.70 347.82,132.56 348.25,131.26 348.68,130.02 349.11,129.01 349.54,128.29 349.97,127.69 350.40,127.01 350.82,126.95 351.24,126.64 351.66,126.22 352.08,125.91 352.50,125.86 352.92,126.05 353.34,126.33 353.76,126.49 354.18,126.40 354.60,126.06 355.02,125.65 355.44,125.36 355.86,125.35 356.28,125.56 356.70,125.84 357.11,125.96 357.52,125.82 357.92,125.47 358.33,125.05 358.74,124.76 359.15,124.72 359.55,124.91 359.96,125.17 360.37,125.30 360.78,125.19 361.18,124.85 361.59,124.43 362.00,124.12 362.41,124.06 362.82,124.23 363.22,124.49 363.63,124.65 364.04,124.56 364.45,124.24 364.85,123.81 365.26,123.49 365.67,123.40 366.08,123.56 366.48,123.82 366.89,123.99 367.30,123.93 367.72,123.54 368.14,123.05 368.56,122.65 368.98,122.50 369.40,122.60 369.82,122.80 370.24,122.90 370.66,122.73 371.08,122.32 371.50,121.83 371.92,121.46 372.34,121.35 372.76,121.47 373.18,121.68 373.60,121.74 374.02,121.90 374.44,121.83 374.86,121.71 375.28,121.74 375.70,122.03 376.13,122.34 376.56,122.68 376.99,122.85 377.42,122.73 377.85,122.40 378.28,122.07 378.71,121.95 379.14,122.12 379.57,122.46 380.00,122.77 380.40,122.84 380.80,122.67 381.20,122.34 381.60,122.04 382.00,121.93 382.40,122.06 382.80,122.37 383.20,122.67 383.60,122.81 384.00,122.69 384.40,122.39 384.80,122.06 385.20,121.89 385.60,121.97 386.00,122.24 386.40,122.57 386.80,122.76 387.20,122.70 387.60,122.44 388.00,122.10 388.40,121.87 388.80,121.89 389.20,122.12 389.60,122.45 390.00,122.69 390.40,122.70 390.80,122.48 391.20,122.14 391.60,121.87 392.00,121.82 392.40,122.01 392.80,122.33 393.20,122.61 393.60,122.68 394.00,122.51 394.40,122.18 394.80,121.88 395.20,121.77 395.60,121.90 396.00,122.21 396.40,122.51 396.80,122.65 397.20,122.53 397.60,122.23 398.00,121.91 398.40,121.73 398.80,121.81 399.20,122.08 399.60,122.41 400.00,122.60 400.40,122.54 400.80,122.28 401.20,121.94 401.60,121.72 402.00,121.73 402.40,121.96 402.80,122.29 403.20,122.53 403.60,122.54 404.00,122.32 404.40,121.98 404.80,121.71 405.20,121.66 405.60,121.85 406.00,122.17 406.40,122.45 406.80,122.52 407.20,122.35 407.60,122.03 408.00,121.72 408.40,121.61 408.80,121.74 409.20,122.05 409.60,122.36 410.00,122.49 410.40,122.38 410.80,122.07 411.20,121.75 411.60,121.58 412.00,121.65 412.40,121.93 412.80,122.25 413.20,122.44 413.60,122.39 414.00,122.12 414.40,121.78 414.80,121.56 415.20,121.57 415.60,121.81 416.00,122.14 416.40,122.37 416.80,122.38 417.20,122.16 417.60,121.82 418.00,121.55 418.40,121.50 418.80,121.69 419.20,122.01 419.60,122.29 420.00,122.37 420.40,122.19 420.80,121.87 421.20,121.57 421.60,121.45 422.00,121.59 422.40,121.89 422.80,122.20 423.20,122.33 423.60,122.22 424.00,121.91 424.40,121.59 424.80,121.42 425.20,121.49 425.60,121.77 426.00,122.09 426.40,122.28 426.80,122.23 427.20,121.96 427.60,121.62 428.00,121.40 428.40,121.41 428.80,121.65 429.20,121.98 429.60,122.21 430.00,122.23 430.40,122.01 430.80,121.67 431.20,121.41 431.61,121.36 432.01,121.56 432.41,121.89 432.81,122.17 433.21,122.24 433.61,122.07 434.02,121.74 434.42,121.45 434.82,121.35 435.22,121.50 435.62,121.82 436.02,122.12 436.42,122.25 436.83,122.13 437.23,121.82 437.63,121.50 438.03,121.35 438.43,121.45 438.83,121.74 439.24,122.07 439.64,122.24 440.04,122.17 440.44,121.89 440.84,121.56 441.24,121.36 441.64,121.41 442.05,121.67 442.45,122.00 442.85,122.22 443.25,122.21 443.65,121.97 444.05,121.63 444.46,121.39 444.86,121.38 445.26,121.60 445.66,121.93 446.06,122.19 446.46,122.23 446.86,122.03 447.27,121.70 447.67,121.43 448.07,121.36 448.47,121.54 448.87,121.86 449.27,122.15 449.68,122.25 450.08,122.09 450.48,121.78 450.88,121.47 451.28,121.35 451.68,121.48 452.08,121.79 452.49,122.10 452.89,122.25 453.29,122.15 453.69,121.85 454.09,121.53 454.49,121.36 454.89,121.43 455.30,121.71 455.70,122.04 456.10,122.24 456.50,122.19 456.90,121.92 457.30,121.59 457.71,121.37 458.11,121.39 458.51,121.64 458.91,121.98 459.31,122.21 459.71,122.22 460.11,121.99 460.52,121.66 460.92,121.40 461.32,121.37 461.72,121.57 462.12,121.90 462.52,122.18 462.93,122.24 463.33,122.06 463.73,121.73 464.13,121.44 464.53,121.35 464.93,121.51 465.33,121.83 465.74,122.13 466.14,122.25 466.54,122.12 466.94,121.81 467.34,121.49 467.74,121.35 468.15,121.46 468.55,121.75 468.95,122.08 469.35,122.25 469.75,122.17 470.15,121.88 470.55,121.55 470.96,121.36 471.36,121.41 471.76,121.68 472.16,122.01 472.56,122.23 472.96,122.20 473.37,121.96 473.77,121.62 474.17,121.38 474.57,121.38 474.97,121.61 475.37,121.95 475.77,122.20 476.18,122.23 476.58,122.02 476.98,121.69 477.38,121.42 477.78,121.36 478.18,121.55 478.59,121.87 478.99,122.16 479.39,122.25 479.79,122.08 480.19,121.76 480.59,121.46 480.99,121.35 481.40,121.49 481.80,121.80 482.20,122.11 482.60,122.25 483.00,122.14 483.40,121.84 483.81,121.52 484.21,121.35 484.61,121.44 485.01,121.72 485.41,122.05 485.81,122.24 486.21,122.18 486.62,121.91 487.02,121.58 487.42,121.37 487.82,121.40 488.22,121.65 488.62,121.99 489.02,122.22 489.43,122.22 489.83,121.98 490.23,121.65 490.63,121.40 491.03,121.37 491.43,121.58 491.84,121.91 492.24,122.18 492.64,122.24 493.04,122.05 493.44,121.72 493.84,121.44 494.24,121.35 494.65,121.52 495.05,121.84 495.45,122.14 495.85,122.25 496.25,122.11 496.65,121.80 497.06,121.49 497.46,121.35 497.86,121.46 498.26,121.77 498.66,122.09 499.06,122.25 499.46,122.16 499.87,121.87 500.27,121.54 500.67,121.36 501.07,121.42 501.47,121.69 501.87,122.02 502.28,122.23 502.68,122.20 503.08,121.94 503.48,121.61 503.88,121.38 504.28,121.38 504.68,121.62 505.09,121.96 505.49,122.20 505.89,122.23 506.29,122.01 506.69,121.68 507.09,121.41 507.50,121.36 507.90,121.55 508.30,121.80 508.70,121.80 509.11,121.72 509.52,121.64 509.93,121.57 510.34,121.49 510.76,121.41 511.17,121.33 511.58,121.26 511.99,121.18 512.40,121.10 512.83,121.93 513.27,122.77 513.70,123.60 514.11,123.79 514.52,123.98 514.93,124.17 515.34,124.36 515.76,124.54 516.17,124.73 516.58,124.92 516.99,125.11 517.40,125.30 517.81,125.52 518.22,125.74 518.63,125.97 519.04,126.19 519.46,126.41 519.87,126.63 520.28,126.86 520.69,127.08 521.10,127.30 521.58,131.24 522.06,135.18 522.54,139.12 523.02,143.06 523.50,147.00 523.92,151.11 524.33,155.22 524.75,159.32 525.17,163.43 525.58,167.54 526.00,171.65 526.42,175.76 526.83,179.87 527.25,183.98 527.67,188.08 528.08,192.19 528.50,196.30 528.90,198.20 529.30,200.10 529.70,202.00 530.10,202.00 530.51,202.01 530.91,202.01 531.32,202.01 531.72,202.02 532.13,202.02 532.53,202.02 532.94,202.02 533.34,202.03 533.75,202.03 534.15,202.03 534.56,202.04 534.96,202.04 535.36,202.04 535.77,202.05 536.17,202.05 536.58,202.05 536.98,202.06 537.39,202.06 537.79,202.06 538.20,202.06 538.60,202.07 539.01,202.07 539.41,202.07 539.82,202.08 540.22,202.08 540.62,202.08 541.03,202.09 541.43,202.09 541.84,202.09 542.24,202.10 542.65,202.10 543.05,202.10 543.46,202.10 543.86,202.11 544.27,202.11 544.67,202.11 545.08,202.12 545.48,202.12 545.88,202.12 546.29,202.13 546.69,202.13 547.10,202.13 547.50,202.14 547.91,202.14 548.31,202.14 548.72,202.14 549.12,202.15 549.53,202.15 549.93,202.15 550.34,202.16 550.74,202.16 551.14,202.16 551.55,202.17 551.95,202.17 552.36,202.17 552.76,202.18 553.17,202.18 553.57,202.18 553.98,202.18 554.38,202.19 554.79,202.19 555.19,202.19 555.60,202.20 556.00,202.20" fill="none" stroke="#2d6a4b" stroke-width="1.1" stroke-linejoin="round" opacity="1.0"/>
<text transform="translate(533.60,130.10) scale(1.04,1)" font-size="10.4" text-anchor="start" fill="#000" color="#000" >(h)</text>
<line x1="56.2" y1="286.5" x2="57.5" y2="286.5" stroke="#969696" stroke-width="0.8"/>
<line x1="56.2" y1="279.5" x2="57.5" y2="279.5" stroke="#969696" stroke-width="0.8"/>
<line x1="56.2" y1="272.5" x2="57.5" y2="272.5" stroke="#969696" stroke-width="0.8"/>
<line x1="56.2" y1="265.5" x2="57.5" y2="265.5" stroke="#969696" stroke-width="0.8"/>
<line x1="56.2" y1="258.5" x2="57.5" y2="258.5" stroke="#969696" stroke-width="0.8"/>
<line x1="56.2" y1="251.5" x2="57.5" y2="251.5" stroke="#969696" stroke-width="0.8"/>
<line x1="56.2" y1="244.5" x2="57.5" y2="244.5" stroke="#969696" stroke-width="0.8"/>
<line x1="56.2" y1="237.5" x2="57.5" y2="237.5" stroke="#969696" stroke-width="0.8"/>
<line x1="56.2" y1="230.5" x2="57.5" y2="230.5" stroke="#969696" stroke-width="0.8"/>
<line x1="56.2" y1="223.5" x2="57.5" y2="223.5" stroke="#969696" stroke-width="0.8"/>
<line x1="56.2" y1="216.5" x2="57.5" y2="216.5" stroke="#969696" stroke-width="0.8"/>
<line x1="56.2" y1="209.5" x2="57.5" y2="209.5" stroke="#969696" stroke-width="0.8"/>
<line x1="56.2" y1="202.5" x2="57.5" y2="202.5" stroke="#969696" stroke-width="0.8"/>
<line x1="55.2" y1="286.5" x2="57.5" y2="286.5" stroke="#969696" stroke-width="0.9"/>
<line x1="55.2" y1="258.5" x2="57.5" y2="258.5" stroke="#969696" stroke-width="0.9"/>
<line x1="55.2" y1="230.5" x2="57.5" y2="230.5" stroke="#969696" stroke-width="0.9"/>
<line x1="55.2" y1="202.5" x2="57.5" y2="202.5" stroke="#969696" stroke-width="0.9"/>
<text transform="translate(53.60,290.60) scale(1.04,1)" font-size="10.2" text-anchor="end" fill="#000" color="#000" >0</text>
<text transform="translate(53.60,262.60) scale(1.04,1)" font-size="10.2" text-anchor="end" fill="#000" color="#000" >2</text>
<text transform="translate(53.60,234.60) scale(1.04,1)" font-size="10.2" text-anchor="end" fill="#000" color="#000" >4</text>
<text transform="translate(53.60,206.60) scale(1.04,1)" font-size="10.2" text-anchor="end" fill="#000" color="#000" >6</text>
<polyline points="57.60,286.30 58.20,266.60 59.00,202.50" fill="none" stroke="#2d6a4b" stroke-width="1.0" stroke-linejoin="round" opacity="1.0"/>
<line x1="59.5" y1="202.5" x2="59.5" y2="280" stroke="#3b4f6e" stroke-width="1.0"/>
<line x1="60.3" y1="202.5" x2="60.3" y2="279" stroke="#3f4a70" stroke-width="1.0"/>
<line x1="61.0" y1="202.5" x2="61.0" y2="278" stroke="#355a5c" stroke-width="0.9"/>
<polyline points="59.80,282.40 61.00,277.70 62.00,279.20 62.60,202.50" fill="none" stroke="#2d6a4b" stroke-width="1.0" stroke-linejoin="round" opacity="1.0"/>
<polyline points="68.60,202.50 69.60,276.50" fill="none" stroke="#b8a8d8" stroke-width="1.6" stroke-linejoin="round" opacity="1.0"/>
<polyline points="67.40,202.50 68.20,250.00 69.30,277.70" fill="none" stroke="#2d6a4b" stroke-width="1.0" stroke-linejoin="round" opacity="1.0"/>
<polyline points="69.60,276.79 70.80,280.32 71.60,279.59 72.40,278.96 73.20,278.30 74.00,278.56 74.80,278.19 75.60,278.30 76.40,277.73 77.20,277.95 78.00,277.27 79.00,276.90 80.00,275.93 80.76,275.67 81.51,275.85 82.27,276.05 83.03,275.62 83.79,276.04 84.54,276.35 85.30,275.87 86.17,275.80 87.03,275.09 87.90,274.64 88.80,270.60 89.70,266.83 90.60,264.00 91.47,260.50 92.33,256.65 93.20,252.79 94.07,251.70 94.93,250.93 95.80,249.39 96.70,250.95 97.60,251.49 98.30,249.98 99.00,249.32 99.70,247.90 100.40,247.35 101.10,246.21 102.00,247.31 102.90,248.94 103.60,248.82 104.30,248.75 105.00,248.74 105.70,247.61 106.40,247.76 107.10,248.34 107.80,248.38 108.50,249.01 109.20,248.85 109.90,249.98 110.66,250.51 111.41,250.99 112.17,252.42 112.93,252.96 113.69,253.72 114.44,254.90 115.20,255.44 115.96,255.77 116.71,256.68 117.47,256.77 118.23,256.34 118.99,257.36 119.74,256.86 120.50,257.43 121.37,258.00 122.23,257.72 123.10,257.41 123.83,257.80 124.55,258.13 125.28,258.18 126.01,259.37 126.74,258.74 127.46,259.43 128.19,260.07 128.92,260.04 129.65,260.94 130.37,260.53 131.10,261.58 131.80,261.37 132.50,261.03 133.20,261.13 133.90,260.57 134.60,260.83 135.30,260.68 136.00,260.28 136.70,260.11 137.40,260.23 138.10,259.81 138.80,259.37 139.50,259.91 140.20,259.31 140.90,259.41 141.60,259.58 142.33,258.83 143.07,258.54 143.80,258.50 144.53,258.82 145.27,258.45 146.00,258.21 146.73,258.26 147.47,258.59 148.20,257.78 148.93,257.79 149.67,258.12 150.40,257.71 151.13,257.07 151.87,256.97 152.60,256.68 153.33,256.04 154.07,255.98 154.80,255.61 155.53,255.80 156.27,255.02 157.00,255.06 157.73,255.07 158.47,254.72 159.20,253.88 159.93,253.67 160.67,252.95 161.40,252.60 162.13,252.25 162.87,252.13 163.60,251.84 164.33,250.76 165.07,250.04 165.80,250.05 166.53,249.22 167.27,248.76 168.00,249.07 168.70,247.97 169.40,248.14 170.10,247.34 170.80,247.48 171.50,246.95 172.20,245.72 172.90,245.41 173.60,245.73 174.30,244.95 175.00,244.32 175.71,244.43 176.43,244.20 177.14,243.62 177.86,243.34 178.57,242.71 179.29,242.72 180.00,242.24 180.90,241.93 181.80,241.11 182.70,239.84 183.41,240.09 184.11,239.33 184.82,239.11 185.52,239.41 186.23,239.00 186.93,239.20 187.64,238.70 188.34,238.53 189.05,237.73 189.76,238.20 190.46,237.22 191.17,237.52 191.87,237.58 192.58,237.34 193.28,237.09 193.99,236.42 194.69,236.43 195.40,236.29 196.10,234.86 196.80,234.88 197.50,234.07 198.20,232.82 198.90,232.38 199.60,231.27 200.30,230.32 201.00,229.97 201.70,228.54 202.40,228.50 203.10,227.90 203.80,226.43 204.50,226.30 205.20,224.66 205.90,224.66 206.61,223.85 207.31,224.31 208.02,223.55 208.73,223.82 209.44,222.70 210.14,222.53 210.85,223.03 211.56,222.63 212.27,222.30 212.97,221.57 213.68,221.49 214.39,221.46 215.10,220.92 215.80,221.63 216.51,221.18 217.22,221.13 217.93,220.66 218.63,220.08 219.34,219.59 220.05,220.01 220.76,219.17 221.46,219.38 222.17,219.07 222.88,218.87 223.59,218.23 224.29,218.00 225.00,218.22 225.70,217.79 226.40,218.34 227.10,218.02 227.80,218.20 228.50,218.13 229.20,218.60 229.90,218.48 230.60,218.37 231.30,218.42 232.10,219.40 232.90,220.38 233.70,220.52" fill="none" stroke="#5e3ca2" stroke-width="1.0" stroke-linejoin="round" opacity="1.0"/>
<polyline points="69.30,277.52 70.05,277.70 70.80,278.55 71.65,277.02 72.50,276.54 73.25,275.97 74.00,275.26 74.80,275.88 75.60,275.59 76.40,276.16 77.20,275.97 78.10,275.29 79.00,274.92 80.00,274.93 80.73,274.17 81.47,274.22 82.20,274.58 82.93,274.85 83.67,274.43 84.40,274.20 85.27,272.71 86.13,269.71 87.00,268.46 87.90,264.69 88.80,261.34 89.70,258.12 90.57,256.24 91.43,254.68 92.30,251.98 93.20,251.78 94.10,251.24 95.00,250.37 95.85,251.90 96.70,252.76 97.60,251.56 98.50,250.51 99.40,249.78 100.27,248.66 101.13,247.68 102.00,247.09 102.87,247.12 103.73,247.13 104.60,247.79 105.50,247.45 106.40,246.74 107.13,247.19 107.87,247.26 108.60,247.73 109.33,247.70 110.07,247.37 110.80,248.18 111.53,247.43 112.27,247.85 113.00,248.31 113.73,247.82 114.47,248.27 115.20,247.94 115.96,248.87 116.71,249.26 117.47,249.37 118.23,249.98 118.99,249.71 119.74,250.40 120.50,250.59 121.26,250.45 122.01,250.20 122.77,250.45 123.53,250.43 124.29,249.83 125.04,249.89 125.80,249.16 126.50,249.86 127.20,249.87 127.90,250.27 128.60,250.16 129.30,249.68 130.00,249.85 130.70,250.19 131.40,249.60 132.10,250.10 132.80,249.87 133.53,249.55 134.27,249.23 135.00,249.67 135.73,248.76 136.47,248.61 137.20,248.49 137.93,248.70 138.67,247.65 139.40,247.75 140.13,247.58 140.87,247.65 141.60,247.32 142.33,247.15 143.07,246.35 143.80,246.27 144.53,245.99 145.27,246.30 146.00,246.16 146.73,245.13 147.47,244.94 148.20,244.78 148.93,244.57 149.67,244.60 150.40,244.49 151.13,243.97 151.87,243.52 152.60,243.74 153.33,243.50 154.07,243.51 154.80,243.70 155.53,243.25 156.27,242.88 157.00,242.79 157.73,242.66 158.47,241.85 159.20,242.50 159.92,242.19 160.64,242.09 161.35,241.83 162.07,241.23 162.79,241.04 163.51,240.56 164.23,240.90 164.95,240.13 165.66,239.95 166.38,239.90 167.10,239.66 168.00,238.04 168.90,235.95 169.80,237.70 170.65,235.20 171.50,232.50 172.20,232.42 172.90,231.75 173.60,232.25 174.30,231.65 175.00,230.85 175.71,230.70 176.43,230.53 177.14,230.29 177.86,229.79 178.57,230.26 179.29,230.15 180.00,229.37 180.70,229.23 181.40,228.67 182.10,228.53 182.80,228.61 183.50,228.38 184.20,228.78 184.90,227.96 185.60,227.66 186.30,228.43 187.00,227.85 187.70,227.31 188.40,227.55 189.10,226.87 189.80,227.22 190.50,227.51 191.20,227.24 191.90,226.91 192.60,226.32 193.30,226.27 194.06,225.59 194.83,225.71 195.59,224.99 196.35,224.75 197.12,223.82 197.88,223.23 198.65,223.34 199.41,223.03 200.17,222.42 200.94,221.89 201.70,221.42 202.41,220.88 203.11,219.91 203.82,219.75 204.53,219.13 205.23,218.35 205.94,217.89 206.65,217.68 207.35,217.21 208.06,217.18 208.77,216.99 209.47,216.02 210.18,216.06 210.89,215.65 211.59,215.16 212.30,214.11 213.01,213.51 213.71,213.06 214.42,212.58 215.13,212.13 215.83,212.09 216.54,211.91 217.25,211.39 217.95,210.58 218.66,210.29 219.37,209.98 220.07,208.81 220.78,208.93 221.49,208.72 222.19,208.14 222.90,207.65 223.95,207.23 225.00,206.78 225.70,207.92 226.40,208.00 227.10,209.00 227.80,209.70 228.50,209.66 229.20,210.20 229.90,211.28 230.60,211.59 231.30,211.57 232.01,211.87 232.72,212.24 233.43,213.34 234.14,213.58 234.86,213.27 235.57,214.29 236.28,214.79 236.99,214.81 237.70,214.85 238.47,215.65 239.25,215.83 240.03,216.31 240.80,217.87 242.10,233.45 242.70,215.83 243.40,202.93" fill="none" stroke="#2d6a4b" stroke-width="1.05" stroke-linejoin="round" opacity="1.0"/>
<polyline points="244.00,202.50 244.80,219.00 246.40,236.50 248.00,241.20 250.40,234.90 252.70,228.50 253.20,224.66 253.67,230.61 254.00,225.17 254.28,228.53 254.55,225.36 255.01,230.97 255.53,224.74 255.94,230.14 256.33,225.59 256.90,229.93 257.21,225.60 257.52,230.88 257.83,224.05 258.45,228.30 258.85,224.46 259.45,228.73 259.82,225.11 260.11,230.09 260.67,224.58 260.95,230.20 261.49,223.97 261.88,230.53 263.00,220.60 264.60,207.90 265.40,202.50" fill="none" stroke="#2d6a4b" stroke-width="1.0" stroke-linejoin="round" opacity="1.0"/>
<line x1="234.6" y1="204" x2="234.6" y2="258" stroke="#5e3ca2" stroke-width="0.8"/>
<line x1="236.1" y1="257" x2="236.1" y2="286.5" stroke="#5e3ca2" stroke-width="1.3"/>
<text transform="translate(103.20,213.60) scale(1.0,1)" font-size="8.4" text-anchor="start" fill="#5e3ca2" color="#5e3ca2"  style="stroke-width:0.04px">#34102 0.8 MA</text>
<text transform="translate(103.20,222.20) scale(1.0,1)" font-size="8.4" text-anchor="start" fill="#2d6a4b" color="#2d6a4b"  style="stroke-width:0.04px">#34104 1 MA</text>
<text transform="translate(262.80,213.90) scale(1.04,1)" font-size="10.4" text-anchor="start" fill="#000" color="#000" >(c)</text>
<line x1="56.2" y1="367.5" x2="57.5" y2="367.5" stroke="#969696" stroke-width="0.8"/>
<line x1="56.2" y1="358.5" x2="57.5" y2="358.5" stroke="#969696" stroke-width="0.8"/>
<line x1="56.2" y1="349.5" x2="57.5" y2="349.5" stroke="#969696" stroke-width="0.8"/>
<line x1="56.2" y1="341.5" x2="57.5" y2="341.5" stroke="#969696" stroke-width="0.8"/>
<line x1="56.2" y1="332.5" x2="57.5" y2="332.5" stroke="#969696" stroke-width="0.8"/>
<line x1="56.2" y1="324.5" x2="57.5" y2="324.5" stroke="#969696" stroke-width="0.8"/>
<line x1="56.2" y1="315.5" x2="57.5" y2="315.5" stroke="#969696" stroke-width="0.8"/>
<line x1="56.2" y1="307.5" x2="57.5" y2="307.5" stroke="#969696" stroke-width="0.8"/>
<line x1="56.2" y1="298.5" x2="57.5" y2="298.5" stroke="#969696" stroke-width="0.8"/>
<line x1="56.2" y1="290.5" x2="57.5" y2="290.5" stroke="#969696" stroke-width="0.8"/>
<line x1="55.2" y1="367.5" x2="57.5" y2="367.5" stroke="#969696" stroke-width="0.9"/>
<line x1="55.2" y1="324.5" x2="57.5" y2="324.5" stroke="#969696" stroke-width="0.9"/>
<text transform="translate(53.60,371.10) scale(1.04,1)" font-size="10.2" text-anchor="end" fill="#000" color="#000" >0.0</text>
<text transform="translate(53.60,328.40) scale(1.04,1)" font-size="10.2" text-anchor="end" fill="#000" color="#000" >0.5</text>
<polyline points="57.50,366.90 79.00,366.90 80.50,366.40 82.10,366.00 82.30,320.40 82.50,362.00 84.00,352.00 86.00,334.00 88.00,322.00 89.50,318.10 91.00,320.00 92.50,328.00 94.00,340.00 96.00,352.00 98.00,359.00 101.00,363.00 104.00,365.00 107.00,365.80 107.90,363.50 148.00,363.30 175.00,347.40 218.60,318.20 235.50,308.90 236.50,315.00 237.20,326.30 238.30,343.00 239.80,355.90 242.00,360.50 246.10,363.90 254.60,365.40 285.00,366.50" fill="none" stroke="#5e3ca2" stroke-width="1.1" stroke-linejoin="round" opacity="1.0"/>
<polyline points="57.50,366.50 62.20,366.50 62.40,351.60 62.70,366.50 79.50,366.50 79.90,318.00 80.30,366.00 81.00,362.00 83.00,350.00 85.50,338.00 87.60,331.50 89.50,334.00 91.50,342.00 94.00,352.00 96.00,357.50 97.50,357.00 99.00,361.00 103.00,364.20 107.00,365.50 107.70,365.00 107.90,353.80 108.10,362.60 148.00,362.60 175.00,344.30 218.60,318.90 219.20,326.00 219.70,336.90 221.80,356.90 227.10,363.90 237.70,365.40 285.00,366.50" fill="none" stroke="#2d6a4b" stroke-width="1.1" stroke-linejoin="round" opacity="1.0"/>
<text transform="translate(262.80,298.10) scale(1.04,1)" font-size="10.4" text-anchor="start" fill="#000" color="#000" >(d)</text>
<line x1="56.2" y1="454.5" x2="57.5" y2="454.5" stroke="#969696" stroke-width="0.8"/>
<line x1="56.2" y1="445.5" x2="57.5" y2="445.5" stroke="#969696" stroke-width="0.8"/>
<line x1="56.2" y1="437.5" x2="57.5" y2="437.5" stroke="#969696" stroke-width="0.8"/>
<line x1="56.2" y1="429.5" x2="57.5" y2="429.5" stroke="#969696" stroke-width="0.8"/>
<line x1="56.2" y1="420.5" x2="57.5" y2="420.5" stroke="#969696" stroke-width="0.8"/>
<line x1="56.2" y1="412.5" x2="57.5" y2="412.5" stroke="#969696" stroke-width="0.8"/>
<line x1="56.2" y1="404.5" x2="57.5" y2="404.5" stroke="#969696" stroke-width="0.8"/>
<line x1="56.2" y1="395.5" x2="57.5" y2="395.5" stroke="#969696" stroke-width="0.8"/>
<line x1="56.2" y1="387.5" x2="57.5" y2="387.5" stroke="#969696" stroke-width="0.8"/>
<line x1="56.2" y1="379.5" x2="57.5" y2="379.5" stroke="#969696" stroke-width="0.8"/>
<line x1="56.2" y1="370.5" x2="57.5" y2="370.5" stroke="#969696" stroke-width="0.8"/>
<line x1="55.2" y1="454.5" x2="57.5" y2="454.5" stroke="#969696" stroke-width="0.9"/>
<line x1="55.2" y1="420.5" x2="57.5" y2="420.5" stroke="#969696" stroke-width="0.9"/>
<line x1="55.2" y1="387.5" x2="57.5" y2="387.5" stroke="#969696" stroke-width="0.9"/>
<text transform="translate(53.60,458.40) scale(1.04,1)" font-size="10.2" text-anchor="end" fill="#000" color="#000" >0</text>
<text transform="translate(53.60,425.00) scale(1.04,1)" font-size="10.2" text-anchor="end" fill="#000" color="#000" >1</text>
<text transform="translate(53.60,391.60) scale(1.04,1)" font-size="10.2" text-anchor="end" fill="#000" color="#000" >2</text>
<polyline points="57.50,451.57 57.93,440.63 58.37,426.31 58.80,415.61 59.20,407.30 59.60,402.42 60.00,393.35 60.47,390.94 60.93,384.78 61.40,382.65 61.80,392.78 62.20,405.91 62.60,438.63 63.30,453.61 63.80,447.66 64.30,446.12 64.80,441.30 65.22,443.02 65.65,441.91 66.08,445.19 66.50,442.79 66.92,444.35 67.34,440.85 67.76,442.07 68.18,439.01 68.60,439.18 69.00,438.77 69.40,443.21 69.80,442.53 70.20,445.69 70.63,444.24 71.06,445.43 71.49,443.79 71.91,445.87 72.34,443.48 72.77,445.55 73.20,442.07 73.70,445.67 74.20,445.86 74.70,449.37 75.16,445.17 75.62,443.79 76.08,438.41 76.54,437.86 77.00,433.38 77.44,436.65 77.88,436.45 78.32,440.81 78.76,440.03 79.20,442.57 79.73,444.25 80.27,448.40 80.80,449.41 81.24,448.46 81.68,445.08 82.12,446.03 82.56,441.56 83.00,441.63 83.46,437.60 83.92,437.55 84.38,434.05 84.84,434.03 85.30,430.36 85.76,435.16 86.22,434.80 86.68,438.22 87.14,437.65 87.60,441.27 88.04,437.13 88.48,436.85 88.92,430.44 89.36,429.95 89.80,425.22 90.24,427.57 90.69,424.38 91.13,425.57 91.57,423.15 92.01,423.70 92.46,420.73 92.90,422.51 93.36,420.58 93.82,423.30 94.28,422.72 94.74,425.94 95.20,423.90 95.70,435.91 96.20,443.76 96.70,456.28 97.14,447.31 97.58,442.89 98.02,434.99 98.46,431.33 98.90,423.52 99.43,428.20 99.97,429.57 100.50,434.43 101.00,435.15 101.50,438.93 102.00,439.19 102.50,435.62 103.00,428.17 103.50,424.48 103.92,421.39 104.33,423.91 104.75,421.37 105.17,423.38 105.58,421.16 106.00,423.47 106.43,421.95 106.86,424.53 107.29,421.99 107.71,423.97 108.14,421.62 108.57,424.25 109.00,422.18 109.40,424.31 109.80,422.33 110.20,424.83 110.60,423.87 111.00,426.26 111.40,424.99 111.80,428.42 112.20,426.02 112.60,430.13 113.00,429.62 113.55,424.70 114.10,417.84 114.57,418.79 115.05,416.01 115.53,418.38 116.00,415.13 116.43,416.48 116.87,414.66 117.30,416.31 117.73,415.18 118.17,416.74 118.60,414.14 119.02,416.29 119.44,415.16 119.87,417.87 120.29,415.37 120.71,418.08 121.13,415.86 121.56,418.44 121.98,416.78 122.40,419.97 122.81,418.46 123.23,422.74 123.64,422.75 124.06,425.27 124.47,425.31 124.89,428.62 125.30,428.33 125.71,430.26 126.12,428.47 126.53,430.81 126.94,429.93 127.36,431.10 127.77,429.65 128.18,432.01 128.59,430.10 129.00,431.81 129.41,430.32 129.82,433.28 130.23,430.60 130.64,433.63 131.06,431.69 131.47,434.06 131.88,430.80 132.29,433.77 132.70,431.69 133.12,434.00 133.54,431.26 133.96,433.45 134.38,431.78 134.80,434.27 135.22,432.41 135.64,434.67 136.06,431.94 136.48,433.91 136.90,432.10 137.32,434.55 137.74,432.53 138.16,434.94 138.58,433.30 139.00,435.03 139.40,432.80 139.81,435.23 140.21,432.81 140.62,434.95 141.02,431.89 141.43,434.46 141.83,431.48 142.24,433.41 142.64,431.68 143.05,434.04 143.45,431.36 143.86,433.55 144.26,432.04 144.67,433.03 145.07,431.06 145.48,432.82 145.88,431.65 146.29,432.87 146.69,430.86 147.10,432.93 147.50,431.30 147.91,433.10 148.32,430.70 148.72,432.94 149.13,431.00 149.54,433.03 149.95,430.01 150.35,432.90 150.76,429.27 151.17,432.53 151.58,430.38 151.98,431.67 152.39,430.04 152.80,432.13 153.21,429.93 153.62,431.17 154.02,429.89 154.43,430.86 154.84,428.54 155.25,431.93 155.65,429.19 156.06,431.43 156.47,428.89 156.88,430.95 157.28,428.87 157.69,430.95 158.10,428.90 158.50,430.29 158.91,428.41 159.31,430.12 159.72,428.44 160.12,431.11 160.52,428.95 160.93,429.81 161.33,427.75 161.73,429.66 162.14,428.46 162.54,430.72 162.95,427.86 163.35,429.73 163.75,428.56 164.16,429.72 164.56,428.13 164.97,430.39 165.37,427.07 165.77,430.29 166.18,427.10 166.58,430.41 166.98,427.05 167.39,430.31 167.79,426.83 168.20,429.04 168.60,427.68 169.00,429.20 169.40,427.24 169.80,429.52 170.20,427.58 170.60,429.98 171.00,427.47 171.40,429.05 171.80,427.61 172.20,429.38 172.60,427.10 173.00,429.50 173.40,427.31 173.80,428.92 174.20,427.33 174.60,429.08 175.00,427.63 175.40,429.37 175.80,427.58 176.20,429.58 176.60,426.87 177.00,428.72 177.40,426.88 177.80,428.97 178.20,427.11 178.60,429.33 179.00,426.62 179.40,429.69 179.80,426.63 180.20,428.69 180.60,426.87 181.00,428.84 181.40,427.59 181.80,429.12 182.20,426.91 182.60,429.54 183.00,427.09 183.40,429.46 183.81,426.81 184.22,428.43 184.62,426.54 185.03,428.72 185.44,426.83 185.85,428.43 186.25,427.61 186.66,429.68 187.07,427.58 187.48,428.59 187.88,427.43 188.29,428.54 188.70,426.50 189.11,429.85 189.52,426.78 189.92,429.01 190.33,426.46 190.74,429.20 191.15,427.57 191.55,429.48 191.96,427.27 192.37,428.90 192.78,427.34 193.18,429.09 193.59,427.57 194.00,429.44 194.41,426.60 194.82,429.40 195.22,427.86 195.63,429.59 196.04,427.87 196.45,429.32 196.85,426.67 197.26,429.63 197.67,426.64 198.08,429.76 198.48,427.57 198.89,428.91 199.30,427.34 199.71,429.70 200.12,427.68 200.52,429.22 200.93,426.96 201.34,429.27 201.75,427.19 202.15,429.58 202.56,426.74 202.97,428.85 203.38,427.84 203.78,429.96 204.19,427.16 204.60,429.00 205.00,427.95 205.40,429.16 205.80,427.36 206.20,430.16 206.60,427.83 207.00,429.15 207.40,427.15 207.80,429.47 208.20,426.92 208.60,430.30 209.00,426.79 209.40,429.89 209.80,427.43 210.20,428.95 210.60,426.98 211.00,429.43 211.40,427.47 211.80,429.77 212.20,426.75 212.60,429.66 213.00,426.82 213.40,430.25 213.80,428.02 214.20,429.37 214.60,426.86 215.00,429.97 215.40,426.74 215.80,429.13 216.20,427.38 216.60,430.20 217.00,427.36 217.40,429.83 217.80,426.74 218.20,429.11 218.60,428.06 219.00,430.09 219.40,427.30 219.82,429.20 220.24,427.03 220.66,429.41 221.08,428.14 221.50,429.52 221.92,428.37 222.34,429.77 222.76,427.39 223.18,429.93 223.60,427.22 224.02,429.43 224.44,428.45 224.86,429.67 225.28,427.97 225.70,429.85 226.10,428.07 226.50,430.69 226.90,428.57 227.30,431.53 227.70,428.64 228.10,432.01 228.50,429.93 228.90,431.61 229.34,429.86 229.79,433.43 230.23,432.63 230.67,435.35 231.11,434.58 231.56,437.68 232.00,435.72 232.44,438.98 232.88,438.21 233.32,442.55 233.76,442.19 234.20,445.64 234.70,447.72 235.20,455.36" fill="none" stroke="#5e3ca2" stroke-width="0.9" stroke-linejoin="round" opacity="1.0"/>
<polyline points="57.50,451.29 57.93,440.82 58.37,425.54 58.80,414.73 59.20,407.63 59.60,406.38 60.00,398.55 60.55,397.01 61.10,391.47 61.55,402.27 62.00,409.20 62.60,441.92 63.30,450.61 63.80,449.27 64.30,443.22 64.80,442.57 65.22,440.64 65.65,442.95 66.08,441.07 66.50,444.13 66.92,440.38 67.34,442.22 67.76,439.03 68.18,440.15 68.60,435.43 69.00,441.05 69.40,439.42 69.80,442.97 70.20,443.79 70.63,444.60 71.06,441.87 71.49,444.44 71.91,442.36 72.34,444.97 72.77,442.01 73.20,443.98 73.70,443.14 74.20,446.27 74.70,445.96 75.16,446.31 75.62,441.17 76.08,439.84 76.54,435.28 77.00,434.06 77.44,433.93 77.88,438.35 78.32,436.71 78.76,440.93 79.20,439.43 79.73,444.37 80.27,444.96 80.80,449.80 81.24,445.62 81.68,445.74 82.12,441.70 82.56,442.07 83.00,439.03 83.46,439.57 83.92,434.14 84.38,435.33 84.84,431.36 85.30,431.39 85.76,431.58 86.22,435.63 86.68,435.37 87.14,438.47 87.60,438.57 88.04,437.94 88.48,433.42 88.92,434.15 89.36,428.38 89.80,428.77 90.24,425.89 90.69,427.18 91.13,424.92 91.57,426.11 92.01,422.88 92.46,423.97 92.90,421.77 93.36,424.18 93.82,422.49 94.28,425.60 94.74,423.55 95.20,427.58 95.70,429.95 96.20,436.61 96.70,438.14 97.14,438.13 97.58,432.44 98.02,431.20 98.46,426.42 98.90,425.64 99.43,424.62 99.97,427.91 100.50,426.66 100.92,428.76 101.35,425.82 101.78,427.17 102.20,424.89 102.70,409.85 103.16,407.06 103.62,408.80 104.08,408.16 104.54,410.04 105.00,408.52 105.43,409.41 105.86,408.14 106.29,409.70 106.71,406.44 107.14,409.46 107.57,407.01 108.00,409.10 108.43,406.94 108.86,409.40 109.29,406.87 109.71,410.41 110.14,407.20 110.57,409.93 111.00,407.56 111.80,412.76 112.20,413.29 112.60,417.75 113.00,418.61 113.55,419.50 114.10,414.57 114.57,415.84 115.05,411.27 115.53,412.67 116.00,408.31 116.43,410.57 116.87,406.17 117.30,407.67 117.73,402.98 118.17,404.99 118.60,401.33 119.04,403.66 119.49,400.17 119.93,403.74 120.37,399.83 120.81,402.66 121.26,400.33 121.70,402.43 122.15,403.50 122.60,409.77 123.05,410.24 123.50,414.96 123.95,416.05 124.40,419.86 124.85,420.99 125.30,424.85 125.71,422.46 126.12,426.44 126.52,423.64 126.93,426.54 127.34,423.60 127.75,426.51 128.15,424.35 128.56,427.05 128.97,424.47 129.38,426.74 129.78,425.09 130.19,427.64 130.60,425.00 131.02,427.18 131.44,425.12 131.86,428.34 132.28,424.79 132.70,428.08 133.12,426.17 133.54,427.80 133.96,426.23 134.38,427.31 134.80,426.06 135.22,428.04 135.64,425.34 136.06,428.41 136.48,426.20 136.90,428.61 137.30,425.81 137.71,428.15 138.11,426.04 138.52,427.88 138.92,425.75 139.33,428.18 139.73,425.36 140.14,427.57 140.54,425.21 140.95,427.46 141.35,424.71 141.76,427.68 142.16,424.37 142.57,427.02 142.97,424.22 143.38,427.75 143.78,423.74 144.19,427.20 144.59,425.06 145.00,427.24 145.40,423.66 145.80,425.73 146.21,424.28 146.61,426.02 147.02,423.42 147.42,426.28 147.82,423.95 148.23,425.40 148.63,423.93 149.03,425.05 149.44,422.74 149.84,426.20 150.25,423.45 150.65,425.69 151.05,422.08 151.46,424.61 151.86,422.48 152.27,424.80 152.67,421.64 153.07,425.29 153.48,422.97 153.88,424.02 154.28,421.44 154.69,424.42 155.09,421.76 155.50,424.60 155.90,421.18 156.31,424.74 156.72,421.91 157.13,423.32 157.54,421.36 157.95,423.36 158.36,421.59 158.77,424.69 159.18,421.89 159.59,424.31 160.00,422.29 160.41,423.63 160.82,421.62 161.23,424.79 161.64,421.03 162.05,423.49 162.45,421.18 162.86,424.29 163.27,422.13 163.68,424.14 164.09,421.80 164.50,424.10 164.91,422.52 165.32,424.96 165.73,421.66 166.14,424.58 166.55,421.66 166.96,425.21 167.37,422.57 167.78,424.99 168.19,421.57 168.60,424.25 169.01,422.04 169.42,424.51 169.82,422.70 170.23,424.55 170.64,422.85 171.05,425.42 171.45,422.87 171.86,425.02 172.27,422.33 172.68,425.64 173.08,422.05 173.49,424.74 173.90,422.80 174.31,424.32 174.72,423.39 175.12,424.81 175.53,422.03 175.94,424.47 176.35,423.35 176.75,425.49 177.16,423.13 177.57,424.84 177.98,422.27 178.38,424.69 178.79,422.90 179.20,425.39 179.61,423.35 180.02,425.01 180.42,423.64 180.83,425.35 181.24,422.70 181.65,425.45 182.05,422.66 182.46,426.11 182.87,423.62 183.28,426.11 183.68,422.97 184.09,425.37 184.50,423.08 184.91,426.12 185.32,423.27 185.72,424.85 186.13,422.36 186.54,424.89 186.95,423.73 187.35,425.85 187.76,423.40 188.17,425.16 188.58,422.86 188.98,426.13 189.39,423.35 189.80,426.15 190.20,422.95 190.61,425.76 191.01,423.17 191.42,424.89 191.82,423.86 192.22,426.04 192.63,423.09 193.03,425.19 193.43,423.26 193.84,425.88 194.24,423.44 194.65,425.85 195.05,424.10 195.45,425.86 195.86,422.98 196.26,425.68 196.67,423.24 197.07,426.31 197.47,424.58 197.88,426.84 198.28,424.76 198.68,426.97 199.09,424.33 199.49,427.19 199.90,423.79 200.30,426.37 200.70,424.05 201.11,427.47 201.51,424.87 201.92,426.32 202.32,424.78 202.73,427.40 203.13,424.94 203.54,426.58 203.94,424.45 204.35,427.21 204.75,424.85 205.16,427.25 205.56,425.57 205.97,426.48 206.37,425.67 206.78,426.65 207.18,424.58 207.59,428.22 207.99,425.71 208.40,427.37 208.80,425.98 209.21,427.58 209.62,425.10 210.02,428.04 210.43,424.88 210.84,428.09 211.25,426.40 211.65,427.97 212.06,425.91 212.47,428.06 212.88,426.75 213.28,428.69 213.69,426.19 214.10,428.98 214.51,426.55 214.92,428.12 215.32,426.87 215.73,428.45 216.14,426.72 216.55,428.58 216.95,427.49 217.36,429.34 217.77,427.55 218.18,428.82 218.58,427.75 218.99,429.95 219.40,426.81 219.88,430.20 220.35,427.18 220.83,429.92 221.30,426.89 221.83,433.75 222.37,435.62 222.90,442.54 223.30,439.79 223.71,442.77 224.11,440.17 224.52,443.06 224.92,441.26 225.32,443.09 225.73,440.89 226.13,443.67 226.53,441.03 226.94,444.00 227.34,441.73 227.75,443.98 228.15,442.72 228.55,445.56 228.96,443.32 229.36,445.60 229.77,443.96 230.17,445.97 230.57,443.68 230.98,446.84 231.38,443.48 231.78,447.04 232.19,444.66 232.59,447.27 233.00,445.35 233.40,447.38 233.80,445.39 234.20,447.77 234.60,445.99 235.00,447.78 235.40,446.02 235.80,448.91 236.20,446.37 236.60,449.80 237.00,446.80 237.40,448.94 237.70,453.07" fill="none" stroke="#2d6a4b" stroke-width="0.9" stroke-linejoin="round" opacity="1.0"/>
<line x1="58.7" y1="412" x2="58.7" y2="454" stroke="#9aa8a0" stroke-width="1.4"/>
<line x1="97.0" y1="370.5" x2="97.0" y2="430" stroke="#2d6a4b" stroke-width="1.0"/>
<line x1="116.2" y1="370.5" x2="116.2" y2="423" stroke="#2d6a4b" stroke-width="0.9"/>
<line x1="117.9" y1="370.5" x2="117.9" y2="423" stroke="#2d6a4b" stroke-width="0.9"/>
<line x1="112.3" y1="370.5" x2="112.3" y2="447.3" stroke="#5e3ca2" stroke-width="1.1"/>
<line x1="221.8" y1="408.2" x2="221.8" y2="454.5" stroke="#2d6a4b" stroke-width="1.0"/>
<text transform="translate(262.80,382.30) scale(1.04,1)" font-size="10.4" text-anchor="start" fill="#000" color="#000" >(e)</text>
<line x1="56.2" y1="535.5" x2="57.5" y2="535.5" stroke="#969696" stroke-width="0.8"/>
<line x1="56.2" y1="526.5" x2="57.5" y2="526.5" stroke="#969696" stroke-width="0.8"/>
<line x1="56.2" y1="516.5" x2="57.5" y2="516.5" stroke="#969696" stroke-width="0.8"/>
<line x1="56.2" y1="506.5" x2="57.5" y2="506.5" stroke="#969696" stroke-width="0.8"/>
<line x1="56.2" y1="497.5" x2="57.5" y2="497.5" stroke="#969696" stroke-width="0.8"/>
<line x1="56.2" y1="487.5" x2="57.5" y2="487.5" stroke="#969696" stroke-width="0.8"/>
<line x1="56.2" y1="478.5" x2="57.5" y2="478.5" stroke="#969696" stroke-width="0.8"/>
<line x1="56.2" y1="468.5" x2="57.5" y2="468.5" stroke="#969696" stroke-width="0.8"/>
<line x1="56.2" y1="458.5" x2="57.5" y2="458.5" stroke="#969696" stroke-width="0.8"/>
<line x1="55.2" y1="535.5" x2="57.5" y2="535.5" stroke="#969696" stroke-width="0.9"/>
<line x1="55.2" y1="487.5" x2="57.5" y2="487.5" stroke="#969696" stroke-width="0.9"/>
<text transform="translate(53.60,539.70) scale(1.04,1)" font-size="10.2" text-anchor="end" fill="#000" color="#000" >0</text>
<text transform="translate(53.60,491.70) scale(1.04,1)" font-size="10.2" text-anchor="end" fill="#000" color="#000" >1</text>
<polyline points="57.50,534.77 58.24,534.83 58.97,535.07 59.71,534.74 60.44,534.76 61.18,534.80 61.91,534.51 62.65,534.73 63.38,534.80 64.12,534.90 64.85,534.40 65.59,534.53 66.32,534.37 67.06,534.86 67.79,534.77 68.53,534.30 69.26,534.95 70.00,534.93 70.74,534.66 71.47,534.59 72.21,534.22 72.94,534.07 73.68,534.38 74.41,534.01 75.15,534.05 75.88,534.04 76.62,533.85 77.35,534.10 78.09,534.04 78.82,534.27 79.56,534.00 80.29,534.04 81.03,533.89 81.76,533.96 82.50,533.77 83.29,533.33 84.08,533.52 84.86,533.21 85.65,532.79 86.44,532.38 87.22,531.80 88.01,531.42 88.80,531.15 89.50,530.12 90.20,529.72 90.90,528.58 91.60,528.01 92.30,526.80 93.00,526.32 93.72,525.64 94.43,524.45 95.15,524.00 95.87,523.89 96.58,522.98 97.30,522.74 98.20,522.53 99.10,522.50 100.00,523.09 100.72,523.59 101.44,523.64 102.16,523.91 102.88,524.48 103.60,525.32 104.31,525.53 105.02,525.43 105.72,525.87 106.43,526.12 107.14,526.44 107.85,527.31 108.56,527.22 109.27,527.84 109.97,528.11 110.68,528.28 111.39,529.01 112.10,528.94 112.80,529.34 113.51,529.01 114.21,529.27 114.92,529.17 115.62,529.25 116.32,529.78 117.03,529.70 117.73,529.40 118.44,529.84 119.14,529.41 119.85,529.58 120.55,529.95 121.25,529.84 121.96,529.50 122.66,530.17 123.37,529.67 124.07,529.74 124.78,530.14 125.48,529.87 126.18,529.89 126.89,529.78 127.59,529.83 128.30,530.22 129.00,530.02 129.70,530.33 130.41,530.22 131.11,530.34 131.81,530.75 132.52,530.47 133.22,530.59 133.92,530.85 134.63,530.43 135.33,530.47 136.03,531.05 136.74,531.05 137.44,530.70 138.14,530.72 138.85,531.16 139.55,531.36 140.25,530.89 140.96,531.48 141.66,531.49 142.36,531.35 143.07,531.28 143.77,531.11 144.47,531.12 145.18,531.83 145.88,531.38 146.58,531.76 147.29,531.50 147.99,531.96 148.69,531.85 149.40,531.70 150.10,531.67 150.80,531.95 151.51,531.40 152.21,531.41 152.92,531.54 153.62,531.65 154.33,531.38 155.03,531.05 155.74,531.39 156.44,530.79 157.15,530.56 157.85,530.64 158.56,530.66 159.26,530.29 159.97,530.27 160.67,530.31 161.38,530.35 162.08,529.94 162.79,530.00 163.49,530.27 164.20,530.24 164.90,529.91 165.63,529.53 166.36,529.06 167.09,528.35 167.81,527.87 168.54,527.46 169.27,527.69 170.00,527.14 170.71,526.72 171.42,525.45 172.12,525.27 172.83,524.55 173.54,524.12 174.25,523.22 174.96,523.09 175.67,521.84 176.38,521.56 177.08,521.08 177.79,520.59 178.50,519.87 179.20,519.13 179.91,518.49 180.61,517.87 181.32,516.76 182.02,516.29 182.72,515.73 183.43,515.00 184.13,513.98 184.84,513.53 185.54,512.87 186.25,511.96 186.95,511.29 187.65,510.41 188.36,509.84 189.06,509.15 189.77,508.07 190.47,507.76 191.18,507.30 191.88,506.51 192.58,505.69 193.29,504.75 193.99,504.28 194.70,503.47 195.40,502.66 196.11,502.47 196.81,501.48 197.52,501.48 198.22,500.50 198.93,500.44 199.63,499.89 200.34,499.24 201.04,499.11 201.75,498.50 202.46,498.11 203.16,497.86 203.87,496.93 204.57,496.29 205.28,496.03 205.98,495.82 206.69,495.03 207.39,494.54 208.10,494.58 209.15,489.11 210.20,483.66 210.90,482.99 211.60,481.61 212.30,480.86 213.00,479.54 213.70,478.72 214.40,477.99 215.10,477.08 215.80,476.07 216.50,474.74 217.20,473.89 217.90,472.72 218.60,471.61 219.30,470.87 220.00,470.12 220.70,469.14 221.44,468.32 222.18,467.75 222.92,466.55 223.65,465.75 224.39,465.21 225.13,464.36 225.87,463.58 226.61,462.99 227.35,462.41 228.08,461.59 228.82,460.73 229.56,460.37 230.30,459.74 231.35,460.42 232.40,461.20 233.45,477.57 234.50,494.56 235.25,505.58 236.00,517.65 236.85,496.95 237.70,476.17 238.50,490.80 239.30,504.56 240.08,504.81 240.87,505.20 241.65,505.07 242.43,505.80 243.22,505.55 244.00,505.65 244.70,506.17 245.40,507.17 246.10,507.63 246.80,508.35 247.50,508.95 248.20,509.65 248.90,510.34 249.60,510.74 250.30,510.99 251.01,511.32 251.72,511.24 252.43,511.26 253.13,511.71 253.84,512.02 254.55,511.78 255.26,511.97 255.97,512.16 256.68,512.54 257.38,512.55 258.09,512.75 258.80,512.98 259.51,512.86 260.22,513.27 260.93,513.48 261.63,513.04 262.34,513.77 263.05,513.76 263.76,513.47 264.47,513.83 265.18,514.09 265.88,514.42 266.59,514.18 267.30,514.45 268.06,515.24 268.83,515.75 269.59,516.43 270.35,516.67 271.12,517.37 271.88,517.63 272.65,518.56 273.41,519.20 274.17,519.65 274.94,520.28 275.70,520.50 276.42,521.03 277.13,521.13 277.85,521.17 278.56,520.91 279.28,521.13 279.99,520.85 280.71,521.31 281.42,521.32 282.14,521.01 282.85,520.87 283.57,521.17 284.28,521.29 285.00,521.49" fill="none" stroke="#5e3ca2" stroke-width="1.1" stroke-linejoin="round" opacity="1.0"/>
<polyline points="57.50,534.48 58.24,534.60 58.97,534.59 59.71,534.21 60.44,534.11 61.18,534.35 61.91,534.27 62.65,534.63 63.38,534.54 64.12,534.47 64.85,534.42 65.59,534.48 66.32,534.11 67.06,534.31 67.79,534.10 68.53,534.61 69.26,534.00 70.00,534.52 70.74,533.95 71.47,534.32 72.21,534.03 72.94,534.02 73.68,534.27 74.41,533.65 75.15,533.62 75.88,534.17 76.62,533.83 77.35,533.48 78.09,534.06 78.82,533.98 79.56,533.34 80.29,533.51 81.03,533.25 81.76,533.32 82.50,533.49 83.29,532.76 84.08,532.74 84.86,531.89 85.65,531.57 86.44,531.62 87.22,530.93 88.01,530.54 88.80,530.27 89.60,529.13 90.40,528.02 91.20,526.72 92.00,526.16 92.80,525.80 93.60,525.28 94.40,524.54 95.20,523.80 96.25,523.25 97.30,522.93 98.00,523.10 98.70,522.90 99.40,523.16 100.10,523.44 100.80,523.72 101.50,524.12 102.20,524.42 102.90,524.60 103.60,525.68 104.30,525.92 105.00,526.50 105.70,526.81 106.41,527.13 107.12,527.29 107.83,527.74 108.53,527.46 109.24,527.95 109.95,527.87 110.66,528.42 111.37,528.14 112.08,528.49 112.78,528.72 113.49,529.11 114.20,528.89 114.90,529.12 115.61,528.89 116.31,528.89 117.02,528.97 117.72,529.26 118.43,528.87 119.13,529.15 119.84,528.55 120.54,529.03 121.25,528.58 121.95,528.41 122.66,528.75 123.36,528.81 124.07,528.12 124.77,528.25 125.48,528.55 126.18,528.20 126.89,528.08 127.59,527.86 128.30,527.83 129.00,528.18 129.70,528.44 130.41,528.45 131.11,528.10 131.81,527.77 132.52,527.98 133.22,528.30 133.92,528.33 134.63,528.20 135.33,527.91 136.03,528.12 136.74,528.08 137.44,528.19 138.14,527.93 138.85,528.41 139.55,528.38 140.25,527.86 140.96,527.95 141.66,528.36 142.36,527.94 143.07,528.41 143.77,528.11 144.47,528.24 145.18,528.24 145.88,527.90 146.58,527.95 147.29,527.93 147.99,528.23 148.69,528.24 149.40,527.84 150.10,528.37 150.81,527.90 151.51,527.64 152.22,527.63 152.93,527.88 153.63,527.44 154.34,527.35 155.05,527.41 155.75,527.30 156.46,527.02 157.17,526.64 157.87,526.62 158.58,526.70 159.29,526.48 159.99,526.20 160.70,525.89 161.52,525.28 162.35,524.92 163.18,524.17 164.00,523.16 164.75,522.70 165.50,521.88 166.25,520.86 167.00,519.98 167.80,518.91 168.60,517.57 169.40,516.68 170.20,515.32 171.00,515.12 171.80,515.30 172.60,515.27 173.40,515.70 174.20,515.53 175.00,515.43 175.70,514.65 176.40,513.46 177.10,512.90 177.80,512.18 178.50,511.13 179.24,509.65 179.98,508.39 180.72,506.97 181.46,505.85 182.20,504.10 182.94,502.69 183.68,501.48 184.42,500.38 185.16,499.05 185.90,497.61 186.64,496.89 187.39,495.58 188.13,494.43 188.87,493.83 189.61,492.89 190.36,491.79 191.10,491.22 191.81,490.42 192.52,489.78 193.22,489.27 193.93,489.13 194.64,487.90 195.35,487.58 196.06,486.95 196.77,486.32 197.47,485.92 198.18,485.20 198.89,485.11 199.60,484.25 200.31,483.82 201.02,482.87 201.72,482.51 202.43,482.04 203.14,481.64 203.85,480.65 204.56,480.23 205.27,479.93 205.97,479.34 206.68,478.35 207.39,478.00 208.10,477.58 208.84,476.56 209.58,475.98 210.32,475.20 211.06,474.65 211.81,473.58 212.55,472.90 213.29,471.90 214.03,471.40 214.77,470.34 215.51,469.69 216.25,468.83 216.99,468.02 217.74,467.13 218.48,466.42 219.22,465.87 219.96,464.90 220.70,463.98 221.42,465.63 222.13,466.38 222.85,467.96 223.57,468.84 224.28,469.81 225.00,471.26 225.70,472.34 226.40,472.99 227.10,473.91 227.80,475.33 228.50,476.53 229.20,477.43 229.90,478.61 230.60,479.41 231.30,480.61 232.00,481.42 232.70,482.58 233.40,483.62 234.11,485.15 234.82,486.70 235.53,488.52 236.24,489.60 236.96,491.16 237.67,492.73 238.38,494.76 239.09,495.98 239.80,497.19 240.58,504.86 241.35,512.01 242.12,519.10 242.90,525.90 243.64,526.75 244.38,527.04 245.12,527.52 245.86,528.62 246.60,529.18 247.34,529.34 248.08,530.40 248.82,530.39 249.56,531.18 250.30,531.56 251.00,531.74 251.71,531.81 252.41,532.27 253.12,532.04 253.82,532.04 254.53,532.11 255.23,532.27 255.94,532.72 256.64,532.62 257.35,532.34 258.05,532.82 258.76,532.78 259.46,532.79 260.17,532.92 260.87,533.08 261.58,533.25 262.28,533.12 262.99,533.28 263.69,533.23 264.40,533.42 265.10,533.32 265.81,533.36 266.52,533.45 267.23,533.61 267.94,533.33 268.65,533.80 269.36,533.52 270.08,533.80 270.79,533.70 271.50,533.91 272.21,533.74 272.92,533.58 273.63,533.59 274.34,533.75 275.05,533.88 275.76,533.96 276.47,533.48 277.18,533.46 277.89,533.51 278.60,533.52 279.31,533.52 280.02,533.51 280.74,533.70 281.45,533.62 282.16,534.04 282.87,534.02 283.58,534.28 284.29,534.30 285.00,534.17" fill="none" stroke="#2d6a4b" stroke-width="1.1" stroke-linejoin="round" opacity="1.0"/>
<text transform="translate(68.2,468.6)" font-size="10.3" textLength="103.6" lengthAdjust="spacing">[10<tspan font-size="8" dy="-3.8" dx="0.5">21</tspan><tspan dy="3.8" dx="0.5">molecules/m</tspan><tspan font-size="8" dy="-3.8" dx="0.4">2</tspan><tspan dy="3.8" dx="0.4">/s]</tspan></text>
<text transform="translate(262.60,466.30) scale(1.04,1)" font-size="10.4" text-anchor="start" fill="#000" color="#000" >(f)</text>
<line x1="327.2" y1="286.5" x2="328.5" y2="286.5" stroke="#969696" stroke-width="0.8"/>
<line x1="327.2" y1="279.5" x2="328.5" y2="279.5" stroke="#969696" stroke-width="0.8"/>
<line x1="327.2" y1="272.5" x2="328.5" y2="272.5" stroke="#969696" stroke-width="0.8"/>
<line x1="327.2" y1="265.5" x2="328.5" y2="265.5" stroke="#969696" stroke-width="0.8"/>
<line x1="327.2" y1="258.5" x2="328.5" y2="258.5" stroke="#969696" stroke-width="0.8"/>
<line x1="327.2" y1="251.5" x2="328.5" y2="251.5" stroke="#969696" stroke-width="0.8"/>
<line x1="327.2" y1="244.5" x2="328.5" y2="244.5" stroke="#969696" stroke-width="0.8"/>
<line x1="327.2" y1="237.5" x2="328.5" y2="237.5" stroke="#969696" stroke-width="0.8"/>
<line x1="327.2" y1="230.5" x2="328.5" y2="230.5" stroke="#969696" stroke-width="0.8"/>
<line x1="327.2" y1="223.5" x2="328.5" y2="223.5" stroke="#969696" stroke-width="0.8"/>
<line x1="327.2" y1="216.5" x2="328.5" y2="216.5" stroke="#969696" stroke-width="0.8"/>
<line x1="327.2" y1="209.5" x2="328.5" y2="209.5" stroke="#969696" stroke-width="0.8"/>
<line x1="327.2" y1="202.5" x2="328.5" y2="202.5" stroke="#969696" stroke-width="0.8"/>
<line x1="326.2" y1="286.5" x2="328.5" y2="286.5" stroke="#969696" stroke-width="0.9"/>
<line x1="326.2" y1="251.5" x2="328.5" y2="251.5" stroke="#969696" stroke-width="0.9"/>
<line x1="326.2" y1="216.5" x2="328.5" y2="216.5" stroke="#969696" stroke-width="0.9"/>
<text transform="translate(324.50,290.60) scale(1.04,1)" font-size="10.2" text-anchor="end" fill="#000" color="#000" >0</text>
<text transform="translate(324.50,255.60) scale(1.04,1)" font-size="10.2" text-anchor="end" fill="#000" color="#000" >5</text>
<text transform="translate(324.50,220.60) scale(1.04,1)" font-size="10.2" text-anchor="end" fill="#000" color="#000" >10</text>
<polyline points="339.80,280.87 340.21,282.21 340.62,280.11 341.02,282.06 341.43,280.30 341.84,281.09 342.25,280.02 342.65,280.76 343.06,279.08 343.47,280.34 343.88,278.97 344.28,280.11 344.69,278.90 345.10,280.01 345.51,278.01 345.92,279.87 346.32,278.54 346.73,279.20 347.14,278.08 347.55,279.50 347.95,277.07 348.36,279.11 348.77,276.73 349.18,278.72 349.58,276.28 349.99,278.45 350.40,276.67 350.81,278.27 351.21,276.29 351.62,278.03 352.03,276.07 352.43,277.55 352.84,276.14 353.25,277.41 353.65,276.05 354.06,276.94 354.46,275.38 354.87,277.51 355.28,275.06 355.68,277.26 356.09,275.37 356.50,277.17 356.90,275.66 357.31,276.96 357.72,275.20 358.12,276.30 358.53,275.31 358.94,276.51 359.34,275.12 359.75,276.31 360.15,274.61 360.56,276.10 360.97,274.96 361.37,276.05 361.78,274.71 362.19,275.65 362.59,274.61 363.00,275.64 363.41,274.58 363.82,275.78 364.22,273.51 364.63,275.34 365.04,273.59 365.45,275.75 365.85,274.13 366.26,274.76 366.67,273.17 367.08,275.32 367.48,273.19 367.89,274.46 368.30,273.26 368.71,275.03 369.12,272.61 369.52,274.80 369.93,273.16 370.34,274.69 370.75,272.82 371.15,274.39 371.56,272.90 371.97,274.49 372.38,272.25 372.78,274.07 373.19,272.50 373.60,273.80 374.01,272.08 374.42,273.86 374.82,272.39 375.23,274.09 375.64,272.50 376.05,273.72 376.45,272.77 376.86,274.21 377.27,272.90 377.68,273.82 378.08,273.03 378.49,274.34 378.90,272.61 379.31,274.32 379.72,273.23 380.12,274.29 380.53,273.00 380.94,274.02 381.35,273.44 381.75,275.04 382.16,273.40 382.57,274.40 382.98,273.33 383.38,274.80 383.79,273.62 384.20,274.75 384.61,273.40 385.02,275.20 385.42,273.85 385.83,274.76 386.24,273.42 386.65,275.50 387.05,273.47 387.46,275.06 387.87,273.39 388.28,274.95 388.68,274.13 389.09,275.24 389.50,273.29 389.91,275.57 390.32,274.05 390.72,275.59 391.13,273.51 391.54,275.22 391.95,273.86 392.35,275.40 392.76,274.29 393.17,275.41 393.58,274.41 393.98,275.55 394.39,274.66 394.80,275.67 395.20,274.61 395.61,275.97 396.01,274.00 396.42,275.11 396.82,273.74 397.22,275.23 397.63,273.97 398.03,275.53 398.43,274.05 398.84,275.18 399.24,273.86 399.65,274.94 400.05,273.34 400.45,274.84 400.86,273.31 401.26,274.87 401.67,273.77 402.07,274.97 402.47,273.97 402.88,274.62 403.28,273.56 403.68,274.87 404.09,272.94 404.49,275.37 404.90,273.73 405.30,274.82 405.71,273.52 406.12,274.93 406.52,273.16 406.93,274.87 407.34,272.77 407.75,273.91 408.15,273.17 408.56,273.87 408.97,272.11 409.38,273.61 409.78,272.35 410.19,273.68 410.60,272.33 411.01,273.96 411.42,272.31 411.82,273.71 412.23,271.67 412.64,273.78 413.05,271.66 413.45,273.60 413.86,271.59 414.27,273.08 414.68,271.24 415.08,273.19 415.49,270.79 415.90,272.28 416.31,271.37 416.72,272.47 417.12,270.43 417.53,272.22 417.94,270.71 418.35,272.42 418.75,270.47 419.16,271.27 419.57,270.48 419.98,270.96 420.38,269.53 420.79,270.79 421.20,269.30 421.61,271.34 422.02,268.75 422.42,271.03 422.83,269.11 423.24,270.59 423.65,268.44 424.05,270.44 424.46,268.75 424.87,270.24 425.28,268.70 425.68,269.53 426.09,267.53 426.50,269.45 426.90,267.96 427.31,269.38 427.71,267.37 428.12,268.16 428.52,267.41 428.93,268.03 429.33,266.69 429.74,268.33 430.14,266.38 430.55,267.84 430.95,265.35 431.36,266.99 431.76,264.81 432.17,266.95 432.57,264.94 432.98,266.03 433.38,264.56 433.79,266.30 434.19,264.08 434.60,265.16 435.00,263.85 435.42,264.84 435.83,263.21 436.25,264.11 436.67,262.54 437.08,263.53 437.50,261.55 437.92,261.95 438.33,260.29 438.75,261.33 439.17,259.15 439.58,260.69 440.00,258.70 440.41,260.45 440.83,258.66 441.24,260.00 441.65,257.85 442.07,259.31 442.48,257.17 442.89,258.54 443.30,256.92 443.72,258.30 444.13,256.58 444.54,257.96 444.96,257.05 445.37,257.96 445.78,255.78 446.20,257.35 446.61,255.88 447.02,257.36 447.43,255.78 447.85,256.92 448.26,255.66 448.67,256.48 449.09,254.53 449.50,256.01 449.90,255.04 450.30,255.98 450.70,254.81 451.10,256.64 451.50,254.86 451.90,257.23 452.30,255.97 452.70,257.68 453.10,255.37 453.50,257.84 453.90,255.74 454.30,257.97 454.80,257.49 455.30,260.95 455.80,283.03" fill="none" stroke="#d01c26" stroke-width="0.9" stroke-linejoin="round" opacity="1.0"/>
<polyline points="339.80,282.13 340.21,283.34 340.62,281.26 341.02,283.29 341.43,281.36 341.84,282.28 342.25,280.58 342.65,282.39 343.06,280.72 343.47,282.12 343.88,280.33 344.28,281.92 344.69,280.32 345.10,281.04 345.51,279.20 345.92,280.88 346.32,279.57 346.73,281.05 347.14,278.88 347.55,280.07 347.95,278.67 348.36,280.30 348.77,278.77 349.18,279.99 349.58,278.51 349.99,279.36 350.40,278.25 350.81,279.03 351.21,277.23 351.62,279.14 352.03,277.13 352.43,279.09 352.84,277.44 353.25,279.45 353.65,277.26 354.06,278.57 354.46,277.28 354.87,279.02 355.28,277.61 355.68,278.37 356.09,276.80 356.50,278.72 356.90,277.42 357.31,278.56 357.72,277.30 358.12,278.83 358.53,276.92 358.94,278.02 359.34,276.50 359.75,277.91 360.15,276.96 360.56,277.76 360.97,276.40 361.37,277.76 361.78,276.53 362.19,277.65 362.59,276.49 363.00,278.17 363.41,276.33 363.82,277.82 364.22,276.26 364.63,277.68 365.04,276.03 365.45,277.21 365.85,276.04 366.26,277.24 366.67,275.52 367.08,277.86 367.48,276.24 367.89,276.92 368.30,275.46 368.71,277.25 369.12,276.05 369.52,277.27 369.93,274.98 370.34,276.86 370.75,275.48 371.15,276.90 371.56,274.75 371.97,276.46 372.38,275.30 372.78,276.27 373.19,274.84 373.60,276.45 374.01,275.23 374.42,276.48 374.82,275.58 375.23,276.52 375.64,274.71 376.05,276.92 376.45,275.55 376.86,277.40 377.27,275.59 377.68,276.80 378.08,276.04 378.49,276.80 378.90,275.98 379.31,277.01 379.72,275.40 380.12,277.16 380.53,276.16 380.94,277.63 381.35,275.58 381.75,277.42 382.16,275.86 382.57,277.61 382.98,276.18 383.38,277.96 383.79,275.90 384.20,278.25 384.61,276.41 385.02,278.34 385.42,276.56 385.83,277.86 386.24,275.94 386.65,278.03 387.05,276.14 387.46,277.79 387.87,275.99 388.28,278.10 388.68,276.68 389.09,278.43 389.50,276.45 389.91,277.81 390.32,276.67 390.72,277.57 391.13,276.73 391.54,278.18 391.95,276.79 392.35,277.73 392.76,276.47 393.17,278.03 393.58,276.54 393.98,278.28 394.39,276.67 394.80,277.84 395.20,276.44 395.61,277.48 396.01,276.54 396.42,277.38 396.82,275.90 397.22,277.27 397.63,275.84 398.03,277.23 398.43,275.75 398.84,277.57 399.24,275.94 399.65,277.74 400.05,275.51 400.45,277.23 400.86,276.03 401.26,276.96 401.67,275.68 402.07,276.91 402.47,274.87 402.88,277.20 403.28,275.66 403.68,276.90 404.09,274.64 404.49,276.64 404.90,275.40 405.30,276.86 405.71,274.89 406.12,276.76 406.52,274.21 406.93,276.39 407.34,273.93 407.75,275.38 408.15,273.86 408.56,275.42 408.97,274.33 409.38,275.28 409.78,273.64 410.19,274.67 410.60,273.57 411.01,275.27 411.42,273.31 411.82,274.79 412.23,273.30 412.64,275.03 413.05,273.14 413.45,274.51 413.86,272.51 414.27,273.59 414.68,271.93 415.08,273.62 415.49,271.72 415.90,274.13 416.31,271.58 416.72,273.81 417.12,271.87 417.53,273.15 417.94,271.68 418.35,273.42 418.75,271.77 419.16,272.35 419.57,270.57 419.98,272.81 420.38,270.59 420.79,272.74 421.20,270.55 421.61,272.36 422.02,270.39 422.42,272.19 422.83,270.54 423.24,271.47 423.65,269.77 424.05,271.60 424.46,269.70 424.87,271.24 425.28,268.89 425.68,270.73 426.09,269.45 426.50,270.09 426.90,268.44 427.31,270.15 427.71,268.52 428.12,269.78 428.52,268.39 428.93,269.06 429.33,267.86 429.74,268.69 430.14,266.80 430.55,268.27 430.95,267.19 431.36,268.50 431.76,266.30 432.17,267.22 432.57,265.77 432.98,267.50 433.38,265.38 433.79,267.18 434.19,265.21 434.60,266.20 435.00,264.47 435.40,266.20 435.80,264.09 436.20,265.33 436.60,264.02 437.00,265.44 437.40,263.59 437.80,264.93 438.20,263.08 438.60,264.67 439.00,262.80 439.40,263.99 439.80,261.88 440.20,263.38 440.60,262.15 441.00,263.30 441.40,261.77 441.80,263.12 442.20,261.21 442.60,262.75 443.00,260.52 443.40,261.55 443.80,260.12 444.20,261.69 444.60,259.74 445.00,261.22 445.41,259.28 445.81,260.81 446.22,258.74 446.62,259.89 447.03,258.15 447.43,258.85 447.84,257.36 448.24,257.71 448.65,256.06 449.05,257.76 449.46,255.61 449.86,256.49 450.27,254.69 450.67,255.96 451.08,254.07 451.48,254.95 451.89,252.80 452.29,254.41 452.70,252.57 453.11,254.18 453.52,251.63 453.93,253.51 454.34,252.39 454.76,253.11 455.17,251.21 455.58,252.71 455.99,251.67 456.40,253.08 456.81,251.49 457.22,252.88 457.63,251.10 458.04,252.13 458.46,250.46 458.87,251.58 459.28,250.00 459.69,251.65 460.10,249.74 460.51,251.72 460.92,250.19 461.33,251.52 461.74,249.15 462.16,250.64 462.57,249.13 462.98,250.34 463.39,248.91 463.80,250.64 464.22,248.82 464.63,250.16 465.05,248.82 465.46,250.25 465.88,248.06 466.29,249.97 466.71,248.37 467.13,249.62 467.54,248.11 467.96,249.18 468.37,247.71 468.79,249.28 469.21,247.59 469.62,248.58 470.04,246.96 470.45,248.24 470.87,247.13 471.28,248.28 471.70,245.93 472.12,247.79 472.53,245.92 472.95,247.69 473.36,246.49 473.78,247.72 474.19,245.68 474.61,247.98 475.03,245.95 475.44,247.12 475.86,246.05 476.27,247.01 476.69,246.37 477.11,247.30 477.52,246.10 477.94,246.94 478.35,245.73 478.77,247.56 479.18,245.22 479.60,247.61 480.06,245.74 480.51,246.93 480.97,245.27 481.43,247.27 481.89,246.00 482.34,247.77 482.80,245.86 483.20,248.75 483.60,247.31" fill="none" stroke="#5e3ca2" stroke-width="0.9" stroke-linejoin="round" opacity="1.0"/>
<polyline points="339.80,277.36 340.22,279.29 340.64,276.87 341.06,278.67 341.48,275.62 341.90,277.59 342.32,274.93 342.74,277.80 343.16,274.11 343.58,277.46 344.00,274.25 344.42,275.55 344.84,272.65 345.26,274.60 345.68,272.51 346.10,273.67 346.50,270.98 346.91,274.40 347.31,270.78 347.72,273.07 348.12,270.28 348.53,273.23 348.93,271.10 349.34,272.85 349.74,270.50 350.15,271.95 350.55,269.97 350.96,272.10 351.36,269.67 351.77,272.72 352.17,269.25 352.58,271.59 352.98,268.61 353.39,272.24 353.79,268.91 354.20,271.86 354.60,269.37 355.02,270.37 355.44,269.01 355.86,271.54 356.28,268.08 356.70,271.08 357.12,268.61 357.54,270.61 357.96,267.54 358.38,269.86 358.80,268.66 359.22,269.67 359.64,267.99 360.06,270.83 360.48,267.74 360.90,270.02 361.32,267.72 361.74,269.55 362.16,266.89 362.58,269.72 363.00,267.92 363.41,269.56 363.82,266.90 364.22,269.49 364.63,266.70 365.04,269.45 365.45,267.36 365.85,268.95 366.26,266.54 366.67,270.03 367.08,267.16 367.48,268.86 367.89,267.05 368.30,269.20 368.71,266.42 369.12,270.01 369.52,266.50 369.93,268.91 370.34,267.54 370.75,269.80 371.15,266.02 371.56,268.55 371.97,266.65 372.38,268.98 372.78,265.81 373.19,268.21 373.60,267.20 374.01,269.53 374.42,266.55 374.82,269.08 375.23,266.38 375.64,269.45 376.05,266.68 376.45,269.07 376.86,267.81 377.27,268.84 377.68,267.57 378.08,270.03 378.49,267.66 378.90,269.71 379.31,267.44 379.72,270.44 380.12,267.64 380.53,269.97 380.94,267.44 381.35,270.92 381.75,267.49 382.16,271.22 382.57,269.05 382.98,271.03 383.38,268.68 383.79,270.74 384.20,268.57 384.61,270.43 385.02,269.00 385.42,271.78 385.83,268.87 386.24,271.66 386.65,268.30 387.05,270.70 387.46,268.89 387.87,271.17 388.28,268.28 388.68,270.74 389.09,269.31 389.50,270.48 389.91,268.02 390.32,271.37 390.72,269.23 391.13,271.54 391.54,268.48 391.95,270.74 392.35,267.97 392.76,270.41 393.17,269.24 393.58,270.75 393.98,268.22 394.39,271.08 394.80,268.63 395.20,271.65 395.61,268.77 396.01,271.46 396.42,269.39 396.82,271.45 397.22,269.15 397.63,271.25 398.03,268.06 398.43,271.25 398.84,268.47 399.24,271.08 399.65,268.20 400.05,270.79 400.45,269.03 400.86,271.09 401.26,268.57 401.67,270.39 402.07,268.55 402.47,270.95 402.88,269.15 403.28,271.33 403.68,268.15 404.09,270.74 404.49,268.02 404.90,271.78 405.30,268.34 405.71,270.81 406.12,268.88 406.52,270.28 406.93,268.79 407.34,271.59 407.75,269.05 408.15,271.37 408.56,267.95 408.97,271.07 409.38,268.82 409.78,270.77 410.19,268.56 410.60,270.73 411.01,267.54 411.42,270.72 411.82,267.87 412.23,270.90 412.64,268.27 413.05,269.65 413.45,267.17 413.86,269.40 414.27,267.80 414.68,269.90 415.08,266.98 415.49,269.74 415.90,267.39 416.31,269.82 416.72,267.37 417.12,269.61 417.53,267.23 417.94,269.65 418.35,267.12 418.75,269.21 419.16,266.17 419.57,269.94 419.98,267.10 420.38,269.73 420.79,267.29 421.20,268.58 421.61,265.73 422.02,268.16 422.42,265.94 422.83,269.32 423.24,265.87 423.65,268.30 424.05,266.64 424.46,268.13 424.87,265.78 425.28,268.50 425.68,265.74 426.09,268.37 426.50,265.55 426.90,267.86 427.31,264.68 427.71,266.81 428.12,264.06 428.52,266.96 428.93,264.52 429.33,267.49 429.74,264.07 430.14,266.46 430.55,264.33 430.95,265.68 431.36,263.15 431.76,265.83 432.17,263.01 432.57,265.83 432.98,262.67 433.38,264.93 433.79,262.08 434.19,264.82 434.60,262.87 435.00,265.19 435.42,261.42 435.83,263.73 436.25,261.18 436.67,264.37 437.08,261.90 437.50,263.92 437.92,260.59 438.33,262.98 438.75,260.74 439.17,262.85 439.58,261.29 440.00,263.72 440.42,259.56 440.83,262.74 441.25,259.37 441.66,261.82 442.08,259.45 442.49,261.67 442.91,258.33 443.33,261.30 443.74,258.37 444.16,260.68 444.57,257.98 444.99,260.46 445.41,256.73 445.82,259.90 446.24,257.10 446.65,258.77 447.07,255.54 447.48,258.26 447.90,255.54 448.32,257.34 448.73,255.97 449.15,257.13 449.56,254.68 449.98,256.71 450.39,254.29 450.81,256.04 451.23,253.81 451.64,256.63 452.06,254.08 452.47,255.47 452.89,253.67 453.31,255.45 453.72,253.36 454.14,254.62 454.55,251.94 454.97,255.32 455.38,252.55 455.80,254.23 456.20,251.35 456.60,254.53 457.00,251.12 457.40,253.47 457.80,250.39 458.20,253.49 458.60,250.10 459.00,252.84 459.40,249.55 459.80,251.52 460.20,249.23 460.60,251.42 461.00,249.50 461.40,251.30 461.80,248.84 462.20,251.22 462.60,248.35 463.00,250.40 463.40,248.32 463.80,250.55 464.22,247.00 464.63,249.69 465.05,248.06 465.46,250.02 465.88,246.23 466.29,249.58 466.71,246.21 467.13,248.48 467.54,246.70 467.96,248.87 468.37,245.69 468.79,247.17 469.21,244.96 469.62,246.62 470.04,244.92 470.45,247.10 470.87,243.84 471.28,246.29 471.70,244.39 472.12,245.88 472.53,243.05 472.95,245.14 473.36,243.80 473.78,245.21 474.19,242.17 474.61,245.73 475.03,241.81 475.44,244.06 475.86,242.21 476.27,243.88 476.69,241.74 477.11,244.58 477.52,241.57 477.94,244.08 478.35,240.92 478.77,243.45 479.18,241.04 479.60,242.68 480.02,240.18 480.43,243.54 480.85,239.46 481.26,243.13 481.68,239.33 482.09,242.37 482.51,239.57 482.93,241.19 483.34,238.75 483.76,240.96 484.17,238.22 484.59,241.71 485.01,238.93 485.42,241.47 485.84,237.84 486.25,240.99 486.67,238.55 487.08,239.80 487.50,238.15 487.90,240.59 488.30,237.77 488.70,239.55 489.10,236.72 489.50,239.24 489.90,236.67 490.30,239.36 490.70,236.83 491.10,239.60 491.50,236.13 491.90,239.06 492.30,235.79 492.70,238.63 493.10,236.45 493.50,238.86 493.90,234.97 494.30,237.32 494.70,235.65 495.10,237.22 495.50,235.79 495.92,237.57 496.34,234.99 496.76,236.53 497.18,234.59 497.60,237.11 498.02,234.82 498.44,236.71 498.86,233.67 499.28,236.69 499.70,232.80 500.12,236.45 500.54,233.48 500.96,234.85 501.38,233.23 501.80,234.67 502.20,232.30 502.60,235.12 503.00,232.90 503.40,235.83 503.80,233.20 504.20,236.40 504.60,233.01 505.00,235.89 505.40,233.93 505.80,235.45 506.20,233.23 506.60,235.90 507.04,234.04 507.49,237.75 507.93,235.03 508.37,238.83 508.81,236.67 509.26,238.74 509.70,237.96 510.10,241.96 510.50,240.65 510.90,243.35 511.30,243.56 511.70,247.38 512.10,245.97" fill="none" stroke="#2d6a4b" stroke-width="0.95" stroke-linejoin="round" opacity="1.0"/>
<polyline points="512.10,246.70 513.70,262.50 515.80,238.80 517.70,256.20 518.40,262.50 520.00,254.60 521.60,250.70" fill="none" stroke="#2d6a4b" stroke-width="1.0" stroke-linejoin="round" opacity="1.0"/>
<text transform="translate(351.00,213.60) scale(1.0,1)" font-size="8.3" text-anchor="start" fill="#d01c26" color="#d01c26"  style="stroke-width:0.04px">#57461 0.19 MA</text>
<text transform="translate(351.00,221.80) scale(1.0,1)" font-size="8.3" text-anchor="start" fill="#5e3ca2" color="#5e3ca2"  style="stroke-width:0.04px">#57454 0.25 MA</text>
<text transform="translate(351.00,230.00) scale(1.0,1)" font-size="8.3" text-anchor="start" fill="#2d6a4b" color="#2d6a4b"  style="stroke-width:0.04px">#57497 0.33 MA</text>
<text transform="translate(533.80,213.90) scale(1.04,1)" font-size="10.4" text-anchor="start" fill="#000" color="#000" >(i)</text>
<line x1="327.2" y1="367.5" x2="328.5" y2="367.5" stroke="#969696" stroke-width="0.8"/>
<line x1="327.2" y1="356.5" x2="328.5" y2="356.5" stroke="#969696" stroke-width="0.8"/>
<line x1="327.2" y1="345.5" x2="328.5" y2="345.5" stroke="#969696" stroke-width="0.8"/>
<line x1="327.2" y1="334.5" x2="328.5" y2="334.5" stroke="#969696" stroke-width="0.8"/>
<line x1="327.2" y1="323.5" x2="328.5" y2="323.5" stroke="#969696" stroke-width="0.8"/>
<line x1="327.2" y1="312.5" x2="328.5" y2="312.5" stroke="#969696" stroke-width="0.8"/>
<line x1="327.2" y1="302.5" x2="328.5" y2="302.5" stroke="#969696" stroke-width="0.8"/>
<line x1="327.2" y1="291.5" x2="328.5" y2="291.5" stroke="#969696" stroke-width="0.8"/>
<line x1="326.2" y1="367.5" x2="328.5" y2="367.5" stroke="#969696" stroke-width="0.9"/>
<line x1="326.2" y1="323.5" x2="328.5" y2="323.5" stroke="#969696" stroke-width="0.9"/>
<text transform="translate(324.50,371.50) scale(1.04,1)" font-size="10.2" text-anchor="end" fill="#000" color="#000" >0.0</text>
<text transform="translate(324.50,327.90) scale(1.04,1)" font-size="10.2" text-anchor="end" fill="#000" color="#000" >0.2</text>
<polyline points="328.30,345.41 328.72,346.76 329.14,345.47 329.56,346.84 329.98,345.59 330.39,347.15 330.81,345.85 331.23,347.24 331.65,346.20 332.07,347.04 332.49,346.00 332.91,347.00 333.32,345.72 333.74,347.27 334.16,345.79 334.58,348.00 335.00,346.42 335.43,347.79 335.85,345.46 336.27,347.14 336.70,345.78 337.12,346.52 337.55,344.78 337.97,345.94 338.40,344.74 338.81,346.46 339.22,346.16 339.64,348.37 340.05,347.53 340.46,349.47 340.88,348.69 341.29,351.43 341.70,350.48 342.12,351.59 342.55,350.45 342.98,352.98 343.40,351.25 343.82,353.30 344.25,352.41 344.68,353.58 345.10,352.97 345.52,354.07 345.93,352.98 346.35,354.09 346.77,352.13 347.18,353.21 347.60,351.80 348.02,353.45 348.43,351.51 348.85,353.22 349.27,351.41 349.68,352.98 350.10,351.37 350.52,352.96 350.93,352.02 351.35,352.70 351.77,351.90 352.18,353.04 352.60,351.86 353.02,353.25 353.43,351.66 353.85,353.20 354.27,352.07 354.68,353.39 355.10,351.55 355.51,353.59 355.93,351.63 356.34,353.42 356.75,351.84 357.16,352.54 357.57,351.77 357.99,352.36 358.40,351.65 358.83,352.04 359.27,349.38 359.70,350.15 360.13,348.20 360.57,349.54 361.00,346.73 361.41,348.34 361.82,347.35 362.23,348.94 362.64,348.29 363.05,349.20 363.46,348.46 363.87,350.57 364.28,349.36 364.69,350.33 365.10,349.59 365.52,350.53 365.94,349.61 366.36,351.29 366.78,349.72 367.19,350.73 367.61,350.23 368.03,350.98 368.45,349.72 368.87,351.78 369.29,349.98 369.71,351.09 370.12,350.35 370.54,351.49 370.96,350.56 371.38,351.30 371.80,350.34 372.22,352.26 372.64,350.96 373.06,352.73 373.48,350.77 373.89,352.72 374.31,351.82 374.73,352.90 375.15,351.82 375.57,353.95 375.99,352.06 376.41,353.78 376.82,352.90 377.24,354.02 377.66,353.44 378.08,354.71 378.50,354.04 378.90,354.75 379.30,353.27 379.70,355.03 380.10,353.81 380.50,355.31 380.90,353.90 381.30,355.43 381.70,353.93 382.10,355.40 382.50,354.40 382.90,355.60 383.30,353.90 383.70,355.75 384.10,354.31 384.50,355.56 384.90,353.90 385.30,355.88 385.70,354.69 386.10,355.57 386.50,354.64 386.90,355.99 387.30,354.48 387.70,355.75 388.10,354.71 388.50,355.88 388.91,354.30 389.31,356.11 389.72,354.84 390.13,355.94 390.53,354.52 390.94,355.68 391.35,354.31 391.76,355.71 392.16,354.64 392.57,355.89 392.98,354.38 393.38,356.48 393.79,355.15 394.20,356.36 394.60,354.61 395.01,356.76 395.42,354.85 395.82,356.61 396.23,354.84 396.64,356.94 397.04,355.12 397.45,356.71 397.86,354.91 398.27,356.68 398.67,355.53 399.08,356.80 399.49,355.46 399.89,356.99 400.30,355.14 400.71,357.21 401.12,355.76 401.54,356.36 401.95,354.97 402.36,357.04 402.77,354.90 403.19,357.12 403.60,354.94 404.01,356.49 404.43,355.68 404.84,356.93 405.25,355.13 405.66,356.45 406.07,354.95 406.49,356.56 406.90,355.66 407.32,356.41 407.75,354.99 408.17,355.38 408.60,354.38 409.02,354.62 409.45,353.62 409.88,354.54 410.30,352.31 410.73,353.93 411.15,351.96 411.57,353.21 412.00,351.55 412.40,352.68 412.80,350.68 413.20,351.37 413.60,350.11 414.00,350.85 414.40,349.18 414.80,350.43 415.20,349.28 415.60,349.67 416.00,348.63 416.40,349.81 416.80,347.73 417.20,349.06 417.60,346.96 418.00,348.11 418.40,346.24 418.80,347.66 419.20,346.31 419.60,347.49 420.00,345.43 420.40,346.77 420.80,345.17 421.20,346.88 421.60,345.22 422.00,345.81 422.40,345.14 422.80,345.95 423.20,344.18 423.60,345.81 424.00,343.91 424.40,345.32 424.80,343.68 425.20,345.15 425.60,343.57 426.00,344.99 426.40,343.66 426.80,345.20 427.20,343.10 427.60,344.81 428.00,343.03 428.40,344.27 428.80,342.78 429.20,344.53 429.60,342.94 430.00,344.77 430.41,342.97 430.81,344.25 431.22,342.53 431.62,343.77 432.03,342.77 432.43,343.72 432.84,342.47 433.24,343.71 433.65,342.17 434.06,343.03 434.46,341.72 434.87,343.66 435.27,341.61 435.68,342.88 436.08,341.74 436.49,343.34 436.89,341.42 437.30,342.94 437.71,341.60 438.11,342.84 438.52,340.64 438.92,342.13 439.33,341.02 439.73,342.33 440.14,340.22 440.54,342.28 440.95,340.94 441.36,341.46 441.76,339.93 442.17,341.56 442.57,339.69 442.98,341.43 443.38,339.62 443.79,341.03 444.19,339.32 444.60,341.10 445.01,340.02 445.42,340.55 445.83,339.66 446.24,340.49 446.66,338.55 447.07,340.74 447.48,338.30 447.89,339.92 448.30,338.17 448.71,339.96 449.12,337.83 449.53,339.90 449.94,337.55 450.36,339.43 450.77,337.77 451.18,338.58 451.59,337.40 452.00,338.42 452.42,335.50 452.83,335.42 453.25,333.17 453.67,333.11 454.08,330.46 454.50,329.62 455.10,326.61 455.70,324.66" fill="none" stroke="#d01c26" stroke-width="0.9" stroke-linejoin="round" opacity="1.0"/>
<polyline points="455.70,324.40 457.00,353.90 458.20,366.30 556.00,366.30" fill="none" stroke="#d01c26" stroke-width="1.0" stroke-linejoin="round" opacity="1.0"/>
<polyline points="328.30,344.46 328.73,346.31 329.15,344.24 329.57,346.02 330.00,344.62 330.43,346.62 330.85,344.93 331.27,346.25 331.70,345.73 332.11,346.51 332.52,344.84 332.94,346.18 333.35,344.88 333.76,346.04 334.18,344.35 334.59,346.45 335.00,344.57 335.43,346.30 335.85,344.70 336.27,345.92 336.70,343.72 337.12,345.08 337.55,343.68 337.97,345.28 338.40,343.24 338.81,345.57 339.22,345.09 339.64,347.66 340.05,346.45 340.46,348.56 340.88,348.43 341.29,350.62 341.70,349.50 342.12,352.02 342.55,351.07 342.98,353.09 343.40,351.68 343.82,354.45 344.25,353.69 344.68,355.17 345.10,354.91 345.51,355.95 345.93,354.19 346.34,355.72 346.75,353.75 347.16,355.12 347.57,352.85 347.99,354.18 348.40,352.73 348.82,354.56 349.25,352.55 349.68,353.79 350.10,352.60 350.52,354.00 350.95,352.47 351.38,353.62 351.80,351.93 352.21,353.26 352.62,351.91 353.04,352.93 353.45,350.73 353.86,352.18 354.28,350.87 354.69,352.33 355.10,350.20 355.51,351.19 355.93,350.13 356.34,351.03 356.75,349.18 357.16,350.13 357.57,348.62 357.99,349.66 358.40,347.56 358.83,348.35 359.27,346.82 359.70,347.64 360.13,344.65 360.57,345.34 361.00,343.62 361.41,345.38 361.82,343.93 362.23,345.58 362.64,343.56 363.05,345.61 363.46,344.26 363.87,345.39 364.28,344.56 364.69,345.50 365.10,344.85 365.53,345.58 365.95,344.02 366.38,345.76 366.80,343.92 367.23,345.99 367.65,343.78 368.07,345.02 368.50,343.54 368.93,344.93 369.35,343.55 369.77,345.51 370.20,343.53 370.62,345.30 371.03,344.64 371.45,345.55 371.87,344.65 372.28,346.25 372.70,345.30 373.12,346.82 373.53,346.20 373.95,347.40 374.37,346.21 374.78,348.13 375.20,347.08 375.61,348.93 376.02,347.98 376.44,350.01 376.85,349.13 377.26,351.49 377.68,349.89 378.09,351.83 378.50,351.35 378.92,352.40 379.34,351.47 379.76,352.41 380.18,351.27 380.59,353.09 381.01,351.74 381.43,353.57 381.85,351.99 382.27,353.43 382.69,351.58 383.11,353.57 383.52,352.05 383.94,353.55 384.36,351.84 384.78,354.08 385.20,352.67 385.60,353.76 386.00,352.35 386.40,353.88 386.80,352.38 387.20,353.52 387.60,352.29 388.00,353.98 388.40,352.07 388.80,353.69 389.20,352.33 389.60,353.70 390.00,352.21 390.40,353.64 390.80,352.67 391.20,353.39 391.60,351.69 392.00,353.89 392.40,352.15 392.80,353.78 393.20,352.36 393.60,353.28 394.00,352.02 394.40,353.65 394.80,352.45 395.20,353.39 395.60,351.61 396.00,353.58 396.40,351.58 396.80,353.13 397.20,351.71 397.60,353.89 398.00,352.60 398.40,353.65 398.80,351.95 399.20,353.39 399.60,352.10 400.00,354.04 400.40,352.01 400.80,353.68 401.20,352.76 401.60,353.84 402.00,352.68 402.40,353.89 402.80,352.65 403.20,353.75 403.60,352.44 404.02,354.25 404.43,352.07 404.85,353.90 405.27,353.05 405.68,354.29 406.10,352.78 406.52,354.34 406.93,352.36 407.35,353.70 407.77,352.51 408.18,353.99 408.60,352.95 409.02,353.72 409.43,352.06 409.85,352.95 410.27,351.42 410.68,352.30 411.10,351.09 411.52,351.59 411.93,349.87 412.35,350.96 412.77,349.65 413.18,350.33 413.60,348.95 414.03,350.19 414.45,347.62 414.88,348.61 415.31,347.30 415.73,348.09 416.16,346.29 416.59,347.26 417.01,345.51 417.44,346.83 417.87,345.08 418.29,345.85 418.72,344.28 419.15,345.04 419.57,343.35 420.00,344.51 420.40,342.29 420.80,344.41 421.20,342.50 421.60,343.84 422.00,342.48 422.40,343.68 422.80,341.65 423.20,343.16 423.60,341.84 424.00,343.23 424.40,341.18 424.80,343.02 425.20,341.37 425.60,342.24 426.00,341.16 426.40,341.94 426.80,341.15 427.20,341.63 427.60,340.43 428.00,341.67 428.40,339.80 428.80,341.38 429.20,340.24 429.60,341.66 430.00,340.09 430.41,340.78 430.81,339.04 431.22,340.38 431.63,338.47 432.03,340.40 432.44,338.72 432.85,340.13 433.25,337.75 433.66,339.41 434.07,338.11 434.47,338.64 434.88,337.08 435.29,339.01 435.69,336.86 436.10,338.52 436.51,336.34 436.91,337.62 437.32,336.52 437.73,337.84 438.13,335.53 438.54,337.05 438.95,335.70 439.35,336.32 439.76,335.19 440.17,336.73 440.57,335.00 440.98,335.78 441.39,334.78 441.79,335.64 442.20,334.37 442.61,335.36 443.01,333.57 443.42,334.74 443.83,333.41 444.23,334.24 444.64,332.42 445.05,334.47 445.45,332.18 445.86,333.39 446.27,332.32 446.67,333.15 447.08,331.29 447.49,333.33 447.89,331.53 448.30,332.65 448.71,331.60 449.13,333.29 449.54,332.59 449.95,334.36 450.37,332.84 450.78,335.38 451.19,333.94 451.61,335.72 452.02,334.60 452.43,336.23 452.85,335.19 453.26,337.66 453.67,336.63 454.09,338.12 454.50,337.19 454.90,338.98 455.30,337.03 455.70,338.42 456.10,336.82 456.50,339.12 456.90,336.94 457.30,338.74 457.70,337.35 458.10,338.69 458.50,336.90 458.90,338.80 459.30,336.95 459.70,338.54 460.10,337.88 460.50,338.86 460.90,337.75 461.30,338.68 461.70,337.94 462.10,338.59 462.50,337.59 462.90,338.59 463.30,337.76 463.70,339.13 464.10,337.83 464.50,338.88 464.90,337.75 465.30,338.87 465.70,337.61 466.10,339.40 466.50,338.16 466.90,339.20 467.30,337.71 467.70,339.60 468.10,337.58 468.50,339.02 468.90,337.70 469.30,339.65 469.70,337.41 470.10,339.56 470.50,338.26 470.90,339.22 471.30,337.94 471.70,339.21 472.10,337.70 472.50,339.40 472.90,337.53 473.30,338.97 473.70,337.73 474.10,339.11 474.50,338.04 474.90,339.18 475.30,338.21 475.70,339.66 476.10,337.69 476.50,339.15 476.90,338.27 477.30,339.25 477.70,337.97 478.10,339.31 478.50,338.53 478.90,339.99 479.30,338.70 479.70,340.10 480.10,338.53 480.50,340.24 480.90,338.72 481.30,339.41 481.70,338.40 482.10,339.65 482.50,338.27 482.90,339.68 483.30,338.61 483.70,339.44 484.10,338.88" fill="none" stroke="#5e3ca2" stroke-width="0.9" stroke-linejoin="round" opacity="1.0"/>
<polyline points="484.10,339.20 485.30,353.90 486.60,366.30 556.00,366.30" fill="none" stroke="#5e3ca2" stroke-width="1.0" stroke-linejoin="round" opacity="1.0"/>
<polyline points="328.30,353.85 328.30,335.47 328.73,333.66 329.15,335.10 329.57,333.69 330.00,335.70 330.43,333.93 330.85,335.88 331.27,334.43 331.70,335.84 332.11,333.67 332.52,335.29 332.94,333.04 333.35,335.23 333.76,332.15 334.18,334.78 334.59,332.30 335.00,333.22 335.43,329.46 335.85,329.91 336.27,326.40 336.70,326.29 337.12,324.51 337.55,328.19 337.97,327.05 338.40,329.20 338.80,329.85 339.20,333.42 339.60,332.92 340.00,336.45 340.43,335.44 340.85,338.78 341.27,337.96 341.70,341.58 342.12,338.49 342.55,339.66 342.97,337.86 343.40,338.63 343.82,337.17 344.23,340.14 344.65,339.40 345.07,342.69 345.48,342.01 345.90,344.08 346.32,342.72 346.73,345.21 347.15,343.91 347.57,346.10 347.98,345.13 348.40,347.22 348.82,344.79 349.23,346.74 349.65,344.85 350.07,346.83 350.48,343.96 350.90,346.22 351.32,346.22 351.75,348.61 352.18,349.04 352.60,351.42 353.02,350.55 353.43,353.42 353.85,352.52 354.27,355.29 354.68,353.37 355.10,356.53 355.52,353.00 355.93,354.73 356.35,351.71 356.77,353.45 357.18,350.54 357.60,351.40 358.03,345.82 358.45,345.28 358.88,340.06 359.30,339.05 359.73,333.87 360.15,331.62 360.57,326.35 361.00,324.62 361.42,322.48 361.83,323.32 362.25,320.75 362.67,322.44 363.08,320.84 363.50,322.49 363.92,320.45 364.33,322.38 364.75,321.55 365.17,323.67 365.58,323.20 366.00,325.57 366.42,323.00 366.83,324.87 367.25,322.87 367.67,324.74 368.08,322.64 368.50,323.85 368.91,322.42 369.32,325.36 369.74,323.51 370.15,325.54 370.56,323.92 370.98,326.27 371.39,324.82 371.80,327.44 372.22,325.77 372.63,329.01 373.05,329.21 373.47,332.32 373.88,330.70 374.30,334.75 374.73,335.30 375.15,338.89 375.57,339.62 376.00,345.01 376.42,341.51 376.83,343.36 377.25,339.83 377.67,341.69 378.08,338.49 378.50,339.96 378.93,338.99 379.35,340.92 379.77,338.42 380.20,341.09 380.62,339.38 381.05,340.68 381.47,339.02 381.90,340.60 382.31,339.77 382.72,341.92 383.14,339.62 383.55,342.69 383.96,340.93 384.38,342.92 384.79,341.41 385.20,343.97 385.61,340.99 386.02,342.81 386.44,340.86 386.85,343.60 387.26,341.76 387.68,342.67 388.09,341.24 388.50,342.40 388.93,342.12 389.37,343.99 389.80,343.16 390.23,346.08 390.67,345.59 391.10,348.30 391.52,345.23 391.93,346.99 392.35,344.67 392.77,347.08 393.18,344.48 393.60,345.63 394.01,344.50 394.43,347.69 394.84,345.32 395.25,348.84 395.66,347.30 396.07,349.92 396.49,348.44 396.90,350.19 397.32,348.46 397.73,350.67 398.15,348.60 398.57,351.15 398.98,348.42 399.40,351.22 399.82,348.68 400.23,350.84 400.65,349.65 401.07,351.21 401.48,348.62 401.90,350.76 402.32,348.75 402.73,350.83 403.15,349.80 403.57,352.05 403.98,349.68 404.40,352.11 404.82,350.51 405.23,351.97 405.65,350.98 406.07,352.76 406.48,351.41 406.90,352.39 407.32,350.66 407.75,352.79 408.17,351.56 408.60,352.76 409.02,350.40 409.45,352.88 409.88,351.24 410.30,352.40 410.73,350.94 411.15,352.53 411.57,351.23 412.00,352.30 412.42,350.87 412.83,353.37 413.25,351.13 413.67,353.27 414.08,351.54 414.50,353.89 414.92,351.68 415.33,353.93 415.75,352.16 416.17,353.73 416.58,351.20 417.00,353.75 417.40,351.64 417.80,352.30 418.20,349.71 418.60,352.42 419.00,349.74 419.40,350.75 419.80,348.05 420.20,350.40 420.60,348.14 421.00,349.20 421.41,347.22 421.81,347.97 422.21,346.01 422.62,347.84 423.02,345.99 423.42,347.55 423.83,345.20 424.23,346.27 424.63,344.59 425.04,345.54 425.44,343.25 425.84,345.07 426.25,342.50 426.65,344.89 427.06,342.36 427.46,344.51 427.86,341.93 428.27,342.77 428.67,340.93 429.07,342.17 429.48,339.94 429.88,342.69 430.28,339.98 430.69,340.92 431.09,338.62 431.49,340.49 431.90,337.96 432.30,340.13 432.71,337.62 433.12,340.39 433.53,338.32 433.94,339.45 434.35,337.71 434.76,339.04 435.17,336.83 435.58,338.80 435.99,337.47 436.40,338.52 436.81,337.33 437.22,339.08 437.63,337.02 438.04,338.55 438.45,336.87 438.86,338.59 439.27,335.78 439.68,338.51 440.09,336.47 440.50,337.91 440.91,335.36 441.32,337.24 441.73,335.16 442.14,336.97 442.55,335.05 442.96,337.40 443.37,334.49 443.78,336.49 444.19,334.97 444.60,337.04 445.01,334.80 445.43,336.26 445.84,334.40 446.25,335.95 446.67,334.08 447.08,335.47 447.49,334.00 447.91,336.01 448.32,333.34 448.73,335.61 449.15,333.97 449.56,335.18 449.97,333.85 450.39,334.84 450.80,333.54 451.21,334.98 451.63,332.55 452.04,335.29 452.45,332.42 452.87,334.78 453.28,333.18 453.69,334.72 454.11,332.37 454.52,335.09 454.93,332.80 455.35,334.63 455.76,331.70 456.17,333.99 456.59,332.10 457.00,333.46 457.41,331.70 457.82,333.14 458.23,331.31 458.64,333.79 459.05,331.00 459.46,333.66 459.87,331.73 460.28,333.45 460.69,330.67 461.10,333.30 461.51,330.17 461.92,332.46 462.33,329.98 462.74,331.85 463.15,329.59 463.56,332.21 463.97,329.54 464.38,331.80 464.79,329.60 465.20,331.16 465.61,329.06 466.02,331.28 466.43,329.56 466.84,331.33 467.25,328.85 467.66,330.66 468.07,328.32 468.48,330.41 468.89,328.24 469.30,330.31 469.71,328.39 470.12,329.83 470.53,327.86 470.94,329.36 471.35,328.14 471.76,329.28 472.17,327.20 472.58,328.87 472.99,326.89 473.40,328.81 473.81,326.41 474.22,328.28 474.63,326.29 475.04,328.95 475.45,326.07 475.86,328.45 476.27,326.50 476.68,328.62 477.09,326.35 477.50,328.05 477.91,325.87 478.32,327.00 478.73,325.61 479.14,327.07 479.55,324.89 479.96,326.68 480.37,324.59 480.78,326.21 481.19,325.29 481.60,326.72 482.01,323.93 482.43,326.38 482.84,324.58 483.25,326.43 483.67,323.60 484.08,324.95 484.49,323.97 484.91,325.11 485.32,323.13 485.73,325.01 486.15,322.41 486.56,324.75 486.97,321.93 487.39,324.15 487.80,322.40 488.21,324.15 488.63,321.35 489.04,323.53 489.45,322.12 489.87,323.14 490.28,321.59 490.69,323.47 491.11,321.10 491.52,322.58 491.93,320.41 492.35,321.75 492.76,320.75 493.17,322.01 493.59,320.22 494.00,321.10 494.41,319.22 494.81,321.55 495.22,318.98 495.62,320.36 496.03,318.31 496.43,321.06 496.84,318.80 497.24,320.25 497.65,318.46 498.06,319.11 498.46,317.69 498.87,319.79 499.27,317.12 499.68,318.83 500.08,316.16 500.49,318.23 500.89,316.52 501.30,317.42 501.72,319.25 502.13,323.84 502.55,324.15 502.97,330.05 503.38,330.68 503.80,335.38 504.22,335.52 504.63,339.34 505.05,340.01 505.47,343.91 505.88,343.13 506.30,347.79 506.71,347.29 507.12,351.15 507.53,350.87 507.94,355.16 508.36,354.94 508.77,358.70 509.18,359.40 509.59,363.12 510.00,363.08 510.41,361.99 510.82,358.72 511.23,358.09 511.64,354.48 512.06,353.35 512.47,349.43 512.88,349.39 513.29,345.32 513.70,345.34 514.12,340.94 514.55,339.53 514.98,334.19 515.40,333.67 515.80,335.96 516.20,341.91 516.60,344.74 517.00,350.61 517.40,353.30 517.81,355.76 518.22,355.62 518.63,358.53 519.04,358.01 519.46,361.02 519.87,360.66 520.28,363.55 520.69,362.46 521.10,365.92" fill="none" stroke="#2d6a4b" stroke-width="0.95" stroke-linejoin="round" opacity="1.0"/>
<polyline points="521.10,364.68 521.70,364.24 522.30,362.98 522.90,361.92 523.50,361.29 524.03,356.72 524.56,352.14 525.09,347.54 525.61,342.78 526.14,338.20 526.67,334.06 527.20,329.12 527.70,322.33 528.20,315.31 528.70,308.25 529.20,301.18 529.70,293.33 530.20,292.98 530.70,293.11 531.20,292.60 531.70,291.86 532.20,291.98 532.71,292.17 533.22,292.14 533.73,291.52 534.23,291.60 534.74,291.31 535.25,292.28 535.76,291.52 536.27,292.03 536.77,291.84 537.28,291.89 537.79,291.83 538.30,292.13 538.80,294.46 539.30,296.72 539.80,299.09 540.30,302.02 540.80,305.02 541.40,313.50 542.00,323.28 542.60,332.48 543.20,341.26 543.70,345.99 544.20,351.15 544.70,355.58 545.20,360.23 545.70,364.98 546.20,364.86 546.70,365.72 547.20,365.87 547.70,366.07 548.20,366.14 548.72,366.61 549.24,366.62 549.76,366.34 550.28,365.89 550.80,365.95 551.32,365.95 551.84,365.88 552.36,366.45 552.88,366.34 553.40,366.00 553.92,366.71 554.44,366.43 554.96,366.59 555.48,366.62 556.00,366.48" fill="none" stroke="#2d6a4b" stroke-width="1.0" stroke-linejoin="round" opacity="1.0"/>
<text transform="translate(533.80,298.30) scale(1.04,1)" font-size="10.4" text-anchor="start" fill="#000" color="#000" >(l)</text>
<line x1="327.2" y1="449.5" x2="328.5" y2="449.5" stroke="#969696" stroke-width="0.8"/>
<line x1="327.2" y1="440.5" x2="328.5" y2="440.5" stroke="#969696" stroke-width="0.8"/>
<line x1="327.2" y1="430.5" x2="328.5" y2="430.5" stroke="#969696" stroke-width="0.8"/>
<line x1="327.2" y1="421.5" x2="328.5" y2="421.5" stroke="#969696" stroke-width="0.8"/>
<line x1="327.2" y1="412.5" x2="328.5" y2="412.5" stroke="#969696" stroke-width="0.8"/>
<line x1="327.2" y1="402.5" x2="328.5" y2="402.5" stroke="#969696" stroke-width="0.8"/>
<line x1="327.2" y1="393.5" x2="328.5" y2="393.5" stroke="#969696" stroke-width="0.8"/>
<line x1="327.2" y1="383.5" x2="328.5" y2="383.5" stroke="#969696" stroke-width="0.8"/>
<line x1="327.2" y1="374.5" x2="328.5" y2="374.5" stroke="#969696" stroke-width="0.8"/>
<line x1="326.2" y1="449.5" x2="328.5" y2="449.5" stroke="#969696" stroke-width="0.9"/>
<line x1="326.2" y1="402.5" x2="328.5" y2="402.5" stroke="#969696" stroke-width="0.9"/>
<text transform="translate(324.50,453.70) scale(1.04,1)" font-size="10.2" text-anchor="end" fill="#000" color="#000" >0.0</text>
<text transform="translate(324.50,406.70) scale(1.04,1)" font-size="10.2" text-anchor="end" fill="#000" color="#000" >0.5</text>
<path d="M339.40,413.40 C339.98,413.90 341.87,414.28 342.90,416.40 C343.93,418.52 344.72,423.17 345.60,426.10 C346.48,429.03 347.18,432.02 348.20,434.00 C349.22,435.98 350.38,437.57 351.70,438.00 C353.02,438.43 354.48,437.07 356.10,436.60 C357.72,436.13 359.63,435.48 361.40,435.20 C363.17,434.92 365.23,435.55 366.70,434.90 C368.17,434.25 368.43,432.72 370.20,431.30 C371.97,429.88 374.95,427.27 377.30,426.40 C379.65,425.53 381.97,426.02 384.30,426.10 C386.63,426.18 388.67,426.97 391.30,426.90 C393.93,426.83 397.17,425.70 400.10,425.70 C403.03,425.70 405.97,426.55 408.90,426.90 C411.83,427.25 414.77,427.70 417.70,427.80 C420.63,427.90 423.62,427.73 426.50,427.50 C429.38,427.27 431.98,426.75 435.00,426.40 C438.02,426.05 442.17,425.45 444.60,425.40 C447.03,425.35 448.15,426.92 449.60,426.10 C451.05,425.28 452.15,422.27 453.30,420.50 C454.45,418.73 455.97,416.33 456.50,415.50" fill="none" stroke="#d01c26" stroke-width="1.0" stroke-linejoin="round" opacity="1.0"/>
<path d="M339.40,390.00 C339.78,389.12 341.12,385.15 341.70,384.70 C342.28,384.25 342.25,383.05 342.90,387.30 C343.55,391.55 344.72,404.33 345.60,410.20 C346.48,416.07 347.33,419.85 348.20,422.50 C349.07,425.15 349.48,425.72 350.80,426.10 C352.12,426.48 354.33,424.80 356.10,424.80 C357.87,424.80 359.63,425.60 361.40,426.10 C363.17,426.60 364.65,427.95 366.70,427.80 C368.75,427.65 371.35,426.08 373.70,425.20 C376.05,424.32 378.45,422.95 380.80,422.50 C383.15,422.05 385.45,422.35 387.80,422.50 C390.15,422.65 392.55,423.40 394.90,423.40 C397.25,423.40 399.27,422.50 401.90,422.50 C404.53,422.50 407.77,423.10 410.70,423.40 C413.63,423.70 415.45,424.22 419.50,424.30 C423.55,424.38 430.82,424.33 435.00,423.90 C439.18,423.47 441.77,421.65 444.60,421.70 C447.43,421.75 449.53,424.28 452.00,424.20 C454.47,424.12 456.52,421.95 459.40,421.20 C462.28,420.45 466.00,419.70 469.30,419.70 C472.60,419.70 476.93,422.72 479.20,421.20 C481.47,419.68 482.00,412.98 482.90,410.60 C483.80,408.22 484.32,407.52 484.60,406.90" fill="none" stroke="#5e3ca2" stroke-width="1.0" stroke-linejoin="round" opacity="1.0"/>
<path d="M339.40,396.10 C339.83,394.35 341.12,388.08 342.00,385.60 C342.88,383.12 343.82,381.50 344.70,381.20 C345.58,380.90 346.42,381.60 347.30,383.80 C348.18,386.00 349.12,390.28 350.00,394.40 C350.88,398.52 351.58,404.68 352.60,408.50 C353.62,412.32 354.93,415.98 356.10,417.30 C357.27,418.62 358.57,416.77 359.60,416.40 C360.63,416.03 361.27,415.02 362.30,415.10 C363.33,415.18 364.48,417.13 365.80,416.90 C367.12,416.67 368.58,414.52 370.20,413.70 C371.82,412.88 373.45,412.38 375.50,412.00 C377.55,411.62 379.87,411.25 382.50,411.40 C385.13,411.55 388.80,412.87 391.30,412.90 C393.80,412.93 395.43,411.60 397.50,411.60 C399.57,411.60 401.50,412.83 403.70,412.90 C405.90,412.97 407.77,412.10 410.70,412.00 C413.63,411.90 418.37,412.07 421.30,412.30 C424.23,412.53 426.02,413.40 428.30,413.40 C430.58,413.40 433.10,412.35 435.00,412.30 C436.90,412.25 437.88,413.80 439.70,413.10 C441.52,412.40 443.85,408.52 445.90,408.10 C447.95,407.68 449.75,410.38 452.00,410.60 C454.25,410.82 456.93,410.02 459.40,409.40 C461.87,408.78 463.10,407.73 466.80,406.90 C470.50,406.07 477.48,405.22 481.60,404.40 C485.72,403.58 488.62,402.48 491.50,402.00 C494.38,401.52 496.43,401.10 498.90,401.50 C501.37,401.90 504.05,403.92 506.30,404.40 C508.55,404.88 511.38,404.40 512.40,404.40" fill="none" stroke="#2d6a4b" stroke-width="1.0" stroke-linejoin="round" opacity="1.0"/>
<polyline points="512.40,404.40 516.10,414.30 518.60,429.10 521.80,450.00 523.50,414.30 525.50,374.90 527.20,399.50" fill="none" stroke="#2d6a4b" stroke-width="1.0" stroke-linejoin="round" opacity="1.0"/>
<text transform="translate(533.80,382.50) scale(1.04,1)" font-size="10.4" text-anchor="start" fill="#000" color="#000" >(m)</text>
<line x1="327.2" y1="533.5" x2="328.5" y2="533.5" stroke="#969696" stroke-width="0.8"/>
<line x1="327.2" y1="526.5" x2="328.5" y2="526.5" stroke="#969696" stroke-width="0.8"/>
<line x1="327.2" y1="520.5" x2="328.5" y2="520.5" stroke="#969696" stroke-width="0.8"/>
<line x1="327.2" y1="513.5" x2="328.5" y2="513.5" stroke="#969696" stroke-width="0.8"/>
<line x1="327.2" y1="506.5" x2="328.5" y2="506.5" stroke="#969696" stroke-width="0.8"/>
<line x1="327.2" y1="500.5" x2="328.5" y2="500.5" stroke="#969696" stroke-width="0.8"/>
<line x1="327.2" y1="493.5" x2="328.5" y2="493.5" stroke="#969696" stroke-width="0.8"/>
<line x1="327.2" y1="487.5" x2="328.5" y2="487.5" stroke="#969696" stroke-width="0.8"/>
<line x1="327.2" y1="480.5" x2="328.5" y2="480.5" stroke="#969696" stroke-width="0.8"/>
<line x1="327.2" y1="473.5" x2="328.5" y2="473.5" stroke="#969696" stroke-width="0.8"/>
<line x1="327.2" y1="467.5" x2="328.5" y2="467.5" stroke="#969696" stroke-width="0.8"/>
<line x1="327.2" y1="460.5" x2="328.5" y2="460.5" stroke="#969696" stroke-width="0.8"/>
<line x1="327.2" y1="454.5" x2="328.5" y2="454.5" stroke="#969696" stroke-width="0.8"/>
<line x1="326.2" y1="533.5" x2="328.5" y2="533.5" stroke="#969696" stroke-width="0.9"/>
<line x1="326.2" y1="500.5" x2="328.5" y2="500.5" stroke="#969696" stroke-width="0.9"/>
<line x1="326.2" y1="467.5" x2="328.5" y2="467.5" stroke="#969696" stroke-width="0.9"/>
<text transform="translate(324.50,537.30) scale(1.04,1)" font-size="10.2" text-anchor="end" fill="#000" color="#000" >0.00</text>
<text transform="translate(324.50,504.40) scale(1.04,1)" font-size="10.2" text-anchor="end" fill="#000" color="#000" >0.05</text>
<text transform="translate(324.50,471.50) scale(1.04,1)" font-size="10.2" text-anchor="end" fill="#000" color="#000" >0.10</text>
<polyline points="328.50,530.54 328.92,532.64 329.33,530.83 329.75,532.49 330.17,531.10 330.58,533.13 331.00,531.34 331.42,532.38 331.83,531.50 332.25,532.63 332.67,531.57 333.08,532.77 333.50,531.93 333.94,532.64 334.39,531.20 334.83,532.38 335.27,530.80 335.71,531.35 336.16,530.29 336.60,531.32 337.06,529.69 337.51,531.24 337.97,528.98 338.43,530.62 338.89,529.42 339.34,530.66 339.80,528.45 340.21,530.17 340.62,528.56 341.02,530.07 341.43,528.29 341.84,530.63 342.25,528.42 342.65,530.75 343.06,529.00 343.47,530.33 343.88,528.48 344.28,530.59 344.69,528.83 345.10,529.90 345.51,528.59 345.92,529.87 346.32,528.51 346.73,529.77 347.14,528.77 347.55,530.26 347.95,529.12 348.36,530.26 348.77,528.72 349.18,530.14 349.58,528.31 349.99,530.66 350.40,528.31 350.80,530.08 351.20,529.34 351.60,530.34 352.00,529.37 352.40,530.80 352.80,529.34 353.20,530.33 353.60,529.44 354.00,530.74 354.40,529.09 354.80,530.92 355.20,529.67 355.60,531.27 356.00,530.06 356.40,530.91 356.80,529.52 357.20,531.59 357.60,530.25 358.00,531.01 358.40,529.95 358.80,531.74 359.20,530.56 359.61,531.58 360.01,530.35 360.42,531.28 360.82,530.53 361.23,531.56 361.63,530.29 362.04,531.44 362.44,530.19 362.85,532.31 363.25,530.20 363.66,531.53 364.06,530.30 364.47,532.19 364.87,531.03 365.28,531.99 365.68,530.43 366.09,532.65 366.49,530.21 366.90,532.32 367.30,530.63 367.72,532.68 368.14,530.87 368.56,532.06 368.98,530.88 369.40,532.19 369.82,530.11 370.24,531.45 370.66,530.44 371.08,531.63 371.50,529.71 371.92,531.08 372.34,530.00 372.76,531.32 373.18,529.92 373.60,531.55 374.02,529.29 374.44,531.48 374.86,529.22 375.28,531.04 375.70,529.44 376.11,530.80 376.52,529.32 376.94,530.79 377.35,529.72 377.76,531.20 378.17,529.65 378.58,530.82 379.00,528.87 379.41,530.90 379.82,528.96 380.23,530.66 380.64,529.40 381.06,530.81 381.47,529.57 381.88,530.82 382.29,529.47 382.70,531.34 383.12,528.95 383.53,530.59 383.94,529.29 384.35,531.06 384.76,529.57 385.18,530.58 385.59,529.65 386.00,530.89 386.40,529.66 386.80,531.18 387.20,529.66 387.60,530.87 388.00,529.75 388.40,531.58 388.80,529.63 389.20,531.57 389.60,529.87 390.00,531.25 390.40,529.46 390.80,531.30 391.20,529.51 391.60,531.47 392.00,529.43 392.40,530.61 392.80,529.33 393.20,531.20 393.60,529.78 394.00,531.32 394.40,529.17 394.80,530.85 395.20,529.89 395.60,530.86 396.00,529.43 396.40,531.02 396.80,529.96 397.20,531.03 397.60,529.47 398.00,531.16 398.40,529.67 398.80,531.38 399.20,529.34 399.60,530.83 400.00,529.68 400.40,531.52 400.80,529.81 401.20,531.03 401.60,529.72 402.00,531.17 402.40,529.21 402.80,530.69 403.20,529.84 403.60,530.63 404.00,529.91 404.40,531.10 404.80,529.53 405.20,531.54 405.60,529.57 406.00,531.11 406.40,530.01 406.80,530.79 407.20,529.72 407.60,530.81 408.00,529.22 408.40,530.99 408.80,529.90 409.20,531.12 409.60,529.88 410.00,530.75 410.40,529.41 410.80,530.65 411.20,529.25 411.60,531.02 412.00,529.97 412.40,531.26 412.80,529.04 413.20,531.33 413.60,529.16 414.00,531.54 414.40,529.76 414.80,531.07 415.20,529.27 415.60,530.97 416.00,529.03 416.40,531.00 416.80,530.02 417.20,530.66 417.60,529.60 418.00,530.58 418.40,529.41 418.80,531.59 419.20,529.07 419.60,531.59 420.00,529.78 420.40,530.73 420.81,529.92 421.21,531.47 421.61,529.93 422.02,530.53 422.42,529.22 422.82,531.40 423.23,529.32 423.63,530.44 424.03,529.79 424.44,531.18 424.84,529.07 425.24,530.61 425.65,528.72 426.05,530.54 426.45,529.55 426.85,531.21 427.26,529.60 427.66,530.54 428.06,529.43 428.47,530.79 428.87,529.07 429.27,530.34 429.68,528.88 430.08,530.15 430.48,528.47 430.89,530.81 431.29,529.24 431.69,530.57 432.10,529.13 432.50,530.51 432.90,529.04 433.31,530.09 433.71,528.82 434.11,529.90 434.52,528.25 434.92,530.60 435.32,529.01 435.73,530.36 436.13,529.02 436.53,529.87 436.94,528.76 437.34,530.40 437.74,529.05 438.15,530.59 438.55,528.81 438.95,529.75 439.35,528.53 439.76,530.47 440.16,528.56 440.56,530.05 440.97,527.92 441.37,530.00 441.77,528.55 442.18,529.60 442.58,528.32 442.98,530.02 443.39,528.21 443.79,529.52 444.19,528.77 444.60,530.29 445.00,528.02 445.41,530.10 445.82,527.79 446.24,529.60 446.65,528.40 447.06,530.09 447.47,527.60 447.88,529.08 448.29,527.80 448.71,529.46 449.12,528.36 449.53,529.46 449.94,527.64 450.35,529.27 450.76,527.98 451.18,529.65 451.59,527.48 452.00,528.95" fill="none" stroke="#d01c26" stroke-width="1.0" stroke-linejoin="round" opacity="1.0"/>
<polyline points="328.50,530.80 328.92,533.06 329.33,531.11 329.75,533.45 330.17,531.80 330.58,533.34 331.00,531.30 331.42,533.75 331.83,531.81 332.25,533.19 332.67,532.15 333.08,534.21 333.50,532.63 333.94,533.31 334.39,531.18 334.83,532.87 335.27,531.38 335.71,532.16 336.16,530.08 336.60,531.61 337.06,530.15 337.51,531.63 337.97,529.47 338.43,531.20 338.89,529.94 339.34,531.00 339.80,529.70 340.21,530.36 340.62,529.54 341.02,530.98 341.43,529.45 341.84,530.98 342.25,529.57 342.65,530.38 343.06,529.72 343.47,530.99 343.88,528.85 344.28,530.49 344.69,529.49 345.10,530.27 345.51,529.07 345.92,530.57 346.32,529.60 346.73,530.93 347.14,529.12 347.55,530.73 347.95,529.58 348.36,530.92 348.77,529.16 349.18,530.71 349.58,529.57 349.99,531.23 350.40,528.84 350.80,531.03 351.20,528.82 351.60,531.04 352.00,529.61 352.40,530.67 352.80,529.45 353.20,531.20 353.60,529.74 354.00,531.81 354.40,529.44 354.80,531.01 355.20,529.51 355.60,531.00 356.00,529.86 356.40,531.45 356.80,529.90 357.20,532.22 357.60,530.22 358.00,532.14 358.40,530.83 358.80,532.15 359.20,530.84 359.61,531.98 360.01,530.66 360.42,531.63 360.82,530.28 361.23,531.70 361.63,530.84 362.04,531.74 362.44,530.47 362.85,532.01 363.25,531.16 363.66,531.77 364.06,531.02 364.47,532.32 364.87,531.28 365.28,531.87 365.68,530.65 366.09,532.44 366.49,531.25 366.90,532.26 367.30,531.31 367.72,532.18 368.14,530.90 368.56,531.98 368.98,530.95 369.40,531.85 369.82,530.71 370.24,532.05 370.66,529.96 371.08,532.00 371.50,530.27 371.92,531.19 372.34,530.40 372.76,531.71 373.18,530.04 373.60,531.79 374.02,529.37 374.44,531.08 374.86,529.80 375.28,530.94 375.70,529.34 376.11,530.67 376.52,529.77 376.94,531.50 377.35,529.68 377.76,531.61 378.17,529.68 378.58,531.49 379.00,529.62 379.41,530.74 379.82,529.52 380.23,530.87 380.64,529.18 381.06,531.39 381.47,529.60 381.88,531.64 382.29,529.60 382.70,531.70 383.12,529.44 383.53,530.90 383.94,529.89 384.35,531.61 384.76,530.11 385.18,531.76 385.59,530.19 386.00,531.54 386.40,529.59 386.80,531.17 387.20,529.59 387.60,531.33 388.00,529.82 388.40,531.00 388.80,530.13 389.20,531.37 389.60,529.25 390.00,531.07 390.40,529.25 390.80,531.07 391.20,529.86 391.60,531.47 392.00,529.15 392.40,530.72 392.80,529.19 393.20,530.94 393.60,529.27 394.00,530.89 394.40,529.03 394.80,530.92 395.20,529.83 395.60,530.61 396.00,529.89 396.40,530.63 396.80,529.16 397.20,530.54 397.60,529.87 398.00,530.75 398.40,529.83 398.80,531.29 399.20,529.95 399.60,531.18 400.00,529.58 400.40,530.61 400.80,529.69 401.20,531.00 401.60,529.67 402.00,530.85 402.40,529.51 402.80,530.99 403.20,529.18 403.60,530.73 404.00,529.27 404.40,531.16 404.80,529.58 405.20,531.20 405.60,529.80 406.00,530.91 406.40,529.51 406.80,530.52 407.20,529.18 407.60,531.27 408.00,529.36 408.40,530.74 408.80,528.91 409.20,531.40 409.60,529.19 410.00,530.94 410.40,529.17 410.80,531.08 411.20,529.12 411.60,530.90 412.00,529.04 412.40,531.11 412.80,529.14 413.20,530.88 413.60,529.42 414.00,530.54 414.40,529.27 414.80,530.63 415.20,529.30 415.60,530.49 416.00,528.84 416.40,530.43 416.80,528.86 417.20,530.88 417.60,528.82 418.00,531.20 418.40,529.58 418.80,530.56 419.20,528.71 419.60,530.95 420.00,529.65 420.40,530.51 420.81,529.59 421.21,530.50 421.61,529.56 422.02,530.18 422.42,529.55 422.82,530.58 423.23,528.81 423.63,530.57 424.03,528.80 424.44,530.67 424.84,529.31 425.24,530.68 425.65,528.88 426.05,530.33 426.45,528.35 426.85,530.32 427.26,528.59 427.66,530.61 428.06,528.75 428.47,529.91 428.87,529.01 429.27,530.00 429.68,528.96 430.08,530.07 430.48,529.04 430.89,530.41 431.29,528.26 431.69,530.22 432.10,528.90 432.50,529.74 432.90,528.03 433.31,530.37 433.71,528.16 434.11,530.32 434.52,528.65 434.92,529.67 435.32,528.37 435.73,529.81 436.13,528.39 436.53,529.52 436.94,527.88 437.34,529.41 437.74,528.08 438.15,530.02 438.55,528.47 438.95,529.47 439.35,528.19 439.76,529.37 440.16,527.58 440.56,529.94 440.97,528.35 441.37,529.05 441.77,527.81 442.18,529.45 442.58,528.35 442.98,529.78 443.39,527.43 443.79,529.42 444.19,528.20 444.60,528.98 445.00,527.37 445.40,529.36 445.80,527.56 446.20,529.40 446.60,527.75 447.00,528.92 447.40,526.72 447.80,528.85 448.20,527.26 448.60,528.50 449.00,526.55 449.40,528.20 449.80,526.76 450.20,528.33 450.60,525.69 451.00,527.23 451.40,525.91 451.80,527.45 452.20,525.80 452.60,527.02 453.00,525.79 453.40,527.21 453.80,525.29 454.20,526.70 454.60,525.07 455.00,526.31 455.40,524.45 455.80,526.59 456.20,524.89 456.60,525.89 457.00,524.39 457.41,525.95 457.82,523.67 458.23,525.93 458.64,524.21 459.05,525.53 459.46,523.93 459.87,524.89 460.28,522.80 460.69,524.15 461.10,523.04 461.51,523.70 461.92,522.48 462.33,524.16 462.74,522.61 463.15,523.75 463.56,521.87 463.97,523.60 464.38,521.36 464.79,522.77 465.20,521.31 465.61,522.84 466.02,520.79 466.43,522.35 466.84,520.25 467.25,522.14 467.66,520.30 468.07,521.07 468.48,520.08 468.89,521.27 469.30,519.82 469.71,520.34 470.12,519.25 470.53,520.67 470.93,519.11 471.34,519.96 471.75,518.85 472.16,520.36 472.57,517.71 472.98,520.05 473.39,517.68 473.79,519.09 474.20,517.73 474.61,518.73 475.02,516.89 475.43,518.63 475.84,517.24 476.25,518.66 476.65,516.17 477.06,517.43 477.47,516.64 477.88,517.63 478.29,515.93 478.70,517.64 479.11,515.88 479.51,517.48 479.92,515.42 480.33,516.29 480.74,514.44 481.15,516.61 481.56,514.32 481.97,515.68 482.37,513.82 482.78,515.50 483.19,514.01 483.60,515.77" fill="none" stroke="#5e3ca2" stroke-width="1.0" stroke-linejoin="round" opacity="1.0"/>
<polyline points="328.50,531.00 328.92,532.74 329.33,530.65 329.75,532.70 330.17,531.37 330.58,533.29 331.00,530.88 331.42,533.17 331.83,531.46 332.25,533.06 332.67,532.28 333.08,533.44 333.50,531.80 333.94,532.83 334.39,530.83 334.83,532.31 335.27,530.79 335.71,531.37 336.16,529.16 336.60,531.49 337.06,528.81 337.51,531.05 337.97,529.53 338.43,530.42 338.89,528.69 339.34,529.88 339.80,527.86 340.21,530.04 340.62,528.81 341.02,530.58 341.43,528.85 341.84,530.71 342.25,528.46 342.65,530.26 343.06,528.59 343.47,530.18 343.88,528.78 344.28,529.64 344.69,527.96 345.10,529.88 345.51,528.06 345.92,529.85 346.32,527.84 346.73,530.67 347.14,528.09 347.55,530.52 347.95,528.30 348.36,530.48 348.77,528.85 349.18,530.17 349.58,528.01 349.99,529.84 350.40,527.89 350.80,530.72 351.20,528.62 351.60,530.21 352.00,528.69 352.40,530.35 352.80,528.15 353.20,530.46 353.60,529.42 354.00,530.23 354.40,528.71 354.80,531.42 355.20,529.09 355.60,530.93 356.00,529.14 356.40,531.35 356.80,529.65 357.20,531.30 357.60,529.36 358.00,531.43 358.40,529.93 358.80,531.00 359.22,529.86 359.64,532.07 360.06,530.02 360.48,531.84 360.90,530.23 361.32,531.40 361.74,530.68 362.16,532.42 362.58,529.99 363.00,532.05 363.43,530.15 363.86,532.35 364.29,529.83 364.72,532.63 365.15,530.36 365.58,532.61 366.01,529.64 366.44,532.07 366.87,529.67 367.30,531.89 367.72,530.15 368.14,531.40 368.56,529.35 368.98,531.09 369.40,530.12 369.82,531.67 370.24,529.07 370.66,531.08 371.08,528.80 371.50,530.36 371.92,529.29 372.34,530.45 372.76,528.90 373.18,530.10 373.60,529.12 374.02,530.11 374.44,527.92 374.86,530.68 375.28,527.90 375.70,529.87 376.10,528.37 376.51,530.40 376.91,528.00 377.32,530.08 377.72,528.55 378.13,529.41 378.53,527.53 378.94,530.06 379.34,527.43 379.75,529.78 380.15,527.93 380.56,529.71 380.96,527.37 381.37,529.34 381.77,527.70 382.18,529.25 382.58,527.37 382.99,528.88 383.39,527.43 383.80,529.97 384.20,528.17 384.62,529.09 385.04,526.59 385.46,528.56 385.88,525.82 386.30,527.01 386.70,525.62 387.11,527.86 387.51,525.03 387.91,526.88 388.31,526.02 388.72,526.85 389.12,526.11 389.52,527.28 389.93,525.98 390.33,527.80 390.73,525.38 391.14,526.92 391.54,525.53 391.94,527.17 392.34,525.60 392.75,527.06 393.15,526.00 393.55,527.03 393.96,525.76 394.36,527.67 394.76,525.56 395.16,526.88 395.57,525.38 395.97,527.89 396.37,525.32 396.78,527.80 397.18,526.25 397.58,527.42 397.99,526.19 398.39,527.79 398.79,526.07 399.19,527.74 399.60,525.99 400.00,527.74 400.40,525.93 400.80,526.96 401.20,525.85 401.60,527.29 402.00,525.24 402.40,527.28 402.80,525.72 403.20,527.59 403.60,525.20 404.00,527.06 404.40,525.62 404.80,527.56 405.20,525.47 405.60,528.12 406.00,525.99 406.40,527.80 406.80,525.74 407.20,527.64 407.60,526.30 408.00,527.96 408.40,525.21 408.80,527.41 409.20,526.01 409.60,528.19 410.00,526.27 410.40,527.10 410.80,526.32 411.20,527.99 411.60,525.50 412.00,527.56 412.40,525.68 412.80,527.05 413.20,525.66 413.60,527.57 414.00,525.82 414.40,527.51 414.80,525.97 415.20,527.32 415.60,526.40 416.00,527.58 416.40,526.17 416.80,527.91 417.20,525.49 417.60,527.94 418.00,525.93 418.40,527.37 418.80,526.03 419.20,527.68 419.60,525.74 420.00,528.26 420.41,526.40 420.82,527.68 421.23,525.91 421.64,527.96 422.05,525.43 422.46,528.04 422.87,525.75 423.28,528.01 423.69,525.70 424.10,528.13 424.51,525.66 424.92,527.92 425.33,526.21 425.74,528.20 426.15,526.04 426.56,527.84 426.97,525.51 427.38,528.26 427.79,525.31 428.20,527.11 428.61,526.12 429.02,527.47 429.43,526.03 429.84,527.27 430.25,525.84 430.66,527.20 431.07,526.14 431.48,528.23 431.89,525.61 432.30,527.65 432.71,526.34 433.12,528.19 433.53,525.58 433.94,527.24 434.35,525.96 434.76,527.71 435.17,525.50 435.58,527.20 435.99,525.12 436.40,527.22 436.81,525.90 437.22,527.79 437.63,525.97 438.04,527.54 438.45,525.86 438.86,527.39 439.27,525.71 439.68,527.07 440.09,524.86 440.50,527.13 440.91,525.42 441.32,527.25 441.73,525.55 442.14,526.67 442.55,525.37 442.96,526.73 443.37,525.55 443.78,527.51 444.19,525.69 444.60,527.27 445.01,524.47 445.43,526.93 445.84,525.35 446.25,526.46 446.67,525.10 447.08,526.37 447.49,524.09 447.91,525.71 448.32,524.70 448.73,525.85 449.15,524.38 449.56,525.35 449.97,523.73 450.39,525.83 450.80,523.61 451.21,524.70 451.63,522.88 452.04,525.31 452.45,522.97 452.87,524.16 453.28,523.16 453.69,524.36 454.11,522.51 454.52,523.93 454.93,521.99 455.35,524.45 455.76,521.62 456.17,524.28 456.59,522.49 457.00,523.70 457.41,522.14 457.82,523.75 458.23,521.01 458.64,523.26 459.05,521.36 459.46,522.09 459.87,520.28 460.28,522.42 460.69,520.19 461.10,521.93 461.51,519.64 461.92,521.45 462.33,519.95 462.74,521.14 463.15,519.59 463.56,521.14 463.97,518.56 464.38,520.15 464.79,519.22 465.20,520.35 465.61,518.16 466.02,519.63 466.43,518.32 466.84,519.15 467.25,518.27 467.66,519.35 468.07,517.17 468.48,519.21 468.89,517.47 469.30,518.22 469.71,516.10 470.12,518.17 470.53,516.15 470.94,517.78 471.35,515.19 471.76,517.01 472.17,515.40 472.58,516.80 472.99,514.66 473.40,515.28 473.81,513.92 474.22,515.30 474.63,513.02 475.04,514.30 475.45,512.35 475.86,514.11 476.27,512.43 476.68,513.96 477.09,511.09 477.50,513.45 477.91,510.66 478.32,512.05 478.73,509.97 479.14,512.30 479.55,509.69 479.96,511.74 480.37,508.60 480.78,510.54 481.19,508.06 481.60,510.62 482.01,507.58 482.43,508.77 482.84,507.37 483.25,508.76 483.67,506.32 484.08,508.19 484.49,505.53 484.91,506.73 485.32,504.45 485.73,506.44 486.15,503.77 486.56,505.31 486.97,502.89 487.39,504.99 487.80,502.42 488.21,504.47 488.63,501.55 489.04,503.27 489.45,501.77 489.87,502.59 490.28,500.92 490.69,502.01 491.11,499.41 491.52,501.05 491.93,499.49 492.35,499.91 492.76,498.40 493.17,499.84 493.59,498.14 494.00,499.20 494.41,497.08 494.82,497.60 495.23,495.30 495.63,497.18 496.04,494.41 496.45,496.24 496.86,494.42 497.27,494.99 497.68,493.13 498.08,494.54 498.49,491.79 498.90,493.75 499.31,491.01 499.72,492.23 500.12,490.35 500.53,491.45 500.94,489.35 501.35,490.39 501.76,488.37 502.17,489.70 502.57,488.04 502.98,489.21 503.39,486.46 503.80,488.26 504.21,485.13 504.62,486.80 505.03,483.44 505.44,485.00 505.86,482.78 506.27,483.17 506.68,481.08 507.09,482.49 507.50,479.81 507.91,481.61 508.32,478.89 508.73,479.31 509.14,476.86 509.56,478.63 509.97,475.79 510.38,476.34 510.79,474.54 511.20,475.89 511.61,472.78 512.02,473.62 512.42,471.08 512.83,471.99 513.24,469.00 513.65,470.23 514.06,466.85 514.47,468.47 514.88,465.60 515.28,466.03 515.69,463.28 516.10,464.85 516.52,461.57 516.93,462.91 517.35,460.43 517.77,462.50 518.18,460.12 518.60,460.57 519.02,459.24 519.43,461.18 519.85,459.80 520.27,462.12 520.68,460.78 521.10,462.95 521.51,461.88 521.92,463.14 522.33,461.84 522.74,464.03 523.16,462.46 523.57,464.29 523.98,462.61 524.39,464.53 524.80,462.86 525.20,463.70 525.60,462.26 526.00,462.67 526.40,463.23 526.80,467.23 527.20,468.05" fill="none" stroke="#2d6a4b" stroke-width="1.05" stroke-linejoin="round" opacity="1.0"/>
<text transform="translate(533.80,466.30) scale(1.04,1)" font-size="10.4" text-anchor="start" fill="#000" color="#000" >(n)</text>
<line x1="57.0" y1="17.5" x2="285.5" y2="17.5" stroke="#a4a4a4" stroke-width="1.0"/>
<line x1="57.0" y1="92.5" x2="285.5" y2="92.5" stroke="#a4a4a4" stroke-width="1.0"/>
<line x1="57.0" y1="118.5" x2="285.5" y2="118.5" stroke="#a4a4a4" stroke-width="1.0"/>
<line x1="57.0" y1="202.5" x2="285.5" y2="202.5" stroke="#a4a4a4" stroke-width="1.0"/>
<line x1="57.0" y1="286.5" x2="285.5" y2="286.5" stroke="#a4a4a4" stroke-width="1.0"/>
<line x1="57.0" y1="371.0" x2="285.5" y2="371.0" stroke="#a4a4a4" stroke-width="1.0"/>
<line x1="57.0" y1="454.7" x2="285.5" y2="454.7" stroke="#a4a4a4" stroke-width="1.0"/>
<line x1="57.0" y1="538.9" x2="285.5" y2="538.9" stroke="#a4a4a4" stroke-width="1.0"/>
<line x1="57.5" y1="17.5" x2="57.5" y2="92.5" stroke="#a4a4a4" stroke-width="1.0"/>
<line x1="285.0" y1="17.5" x2="285.0" y2="92.5" stroke="#a4a4a4" stroke-width="1.0"/>
<line x1="57.5" y1="118.5" x2="57.5" y2="538.9" stroke="#a4a4a4" stroke-width="1.0"/>
<line x1="285.0" y1="118.5" x2="285.0" y2="538.9" stroke="#a4a4a4" stroke-width="1.0"/>
<line x1="328.0" y1="17.5" x2="556.5" y2="17.5" stroke="#a4a4a4" stroke-width="1.0"/>
<line x1="328.0" y1="92.5" x2="556.5" y2="92.5" stroke="#a4a4a4" stroke-width="1.0"/>
<line x1="328.0" y1="118.5" x2="556.5" y2="118.5" stroke="#a4a4a4" stroke-width="1.0"/>
<line x1="328.0" y1="202.5" x2="556.5" y2="202.5" stroke="#a4a4a4" stroke-width="1.0"/>
<line x1="328.0" y1="286.5" x2="556.5" y2="286.5" stroke="#a4a4a4" stroke-width="1.0"/>
<line x1="328.0" y1="371.0" x2="556.5" y2="371.0" stroke="#a4a4a4" stroke-width="1.0"/>
<line x1="328.0" y1="454.7" x2="556.5" y2="454.7" stroke="#a4a4a4" stroke-width="1.0"/>
<line x1="328.0" y1="538.9" x2="556.5" y2="538.9" stroke="#a4a4a4" stroke-width="1.0"/>
<line x1="328.5" y1="17.5" x2="328.5" y2="92.5" stroke="#a4a4a4" stroke-width="1.0"/>
<line x1="556.0" y1="17.5" x2="556.0" y2="92.5" stroke="#a4a4a4" stroke-width="1.0"/>
<line x1="328.5" y1="118.5" x2="328.5" y2="538.9" stroke="#a4a4a4" stroke-width="1.0"/>
<line x1="556.0" y1="118.5" x2="556.0" y2="538.9" stroke="#a4a4a4" stroke-width="1.0"/>
<text transform="translate(42.2,70.40) rotate(-90)" font-size="10.3" textLength="30.90" lengthAdjust="spacing">L<tspan font-size="7.5" dy="2.5" style="fill:#777;stroke:none">&#8741;</tspan><tspan dy="-2.5"> [m]</tspan></text>
<text transform="translate(307.6,70.80) rotate(-90)" font-size="10.3" textLength="31.00" lengthAdjust="spacing">L<tspan font-size="7.5" dy="2.5" style="fill:#777;stroke:none">&#8741;</tspan><tspan dy="-2.5"> [m]</tspan></text>
<text transform="translate(33.2,177.30) rotate(-90)" font-size="10.3" textLength="33.10" lengthAdjust="spacing">I<tspan font-size="8" dy="2.5" font-style="italic">p</tspan><tspan dy="-2.5"> [MA]</tspan></text>
<text transform="translate(303.7,177.30) rotate(-90)" font-size="10.3" textLength="33.10" lengthAdjust="spacing">I<tspan font-size="8" dy="2.5" font-style="italic">p</tspan><tspan dy="-2.5"> [MA]</tspan></text>
<text transform="translate(42.3,276.80) rotate(-90)" font-size="10.3" textLength="63.70" lengthAdjust="spacing">n<tspan font-size="7.5" dy="-4.6">e</tspan><tspan font-size="7.5" dx="-4.2" dy="8">e</tspan><tspan dy="-3.4">[10</tspan><tspan font-size="8" dy="-3.4">19</tspan><tspan dy="3.4">m</tspan><tspan font-size="8" dy="-3.4">&#8722;3</tspan><tspan dy="3.4">]</tspan></text>
<text transform="translate(307.9,276.80) rotate(-90)" font-size="10.3" textLength="63.70" lengthAdjust="spacing">n<tspan font-size="7.5" dy="-4.6">e</tspan><tspan font-size="7.5" dx="-4.2" dy="8">e</tspan><tspan dy="-3.4">[10</tspan><tspan font-size="8" dy="-3.4">19</tspan><tspan dy="3.4">m</tspan><tspan font-size="8" dy="-3.4">&#8722;3</tspan><tspan dy="3.4">]</tspan></text>
<text transform="translate(34.0,360.30) rotate(-90)" font-size="10.3" textLength="63.00" lengthAdjust="spacing">D<tspan font-size="7.5" dy="2">2</tspan><tspan dy="-2"> [10</tspan><tspan font-size="8" dy="-3.6">22</tspan><tspan dy="3.6">el/s]</tspan></text>
<text transform="translate(305.4,359.90) rotate(-90)" font-size="10.3" textLength="61.80" lengthAdjust="spacing">D<tspan font-size="7.5" dy="2">2</tspan><tspan dy="-2">[10</tspan><tspan font-size="8" dy="-3.6">22</tspan><tspan dy="3.6">el/s]</tspan></text>
<text transform="translate(42.2,437.50) rotate(-90)" font-size="10.3" textLength="48.90" lengthAdjust="spacing">P<tspan font-size="8" dy="2.4" font-style="italic">sep</tspan><tspan dy="-2.4"> [MW]</tspan></text>
<text transform="translate(304.8,437.50) rotate(-90)" font-size="10.3" textLength="48.90" lengthAdjust="spacing">P<tspan font-size="8" dy="2.4">sep</tspan><tspan dy="-2.4"> [MW]</tspan></text>
<text transform="translate(298.9,506.70) rotate(-90)" font-size="10.3" textLength="19.20" lengthAdjust="spacing">[Pa]</text>
<text transform="translate(171.20,562.20) scale(1.04,1)" font-size="10.2" text-anchor="middle" fill="#000" color="#000" >t [s]</text>
<text transform="translate(442.20,562.20) scale(1.04,1)" font-size="10.2" text-anchor="middle" fill="#000" color="#000" >t [s]</text>
</svg>
</body></html>
